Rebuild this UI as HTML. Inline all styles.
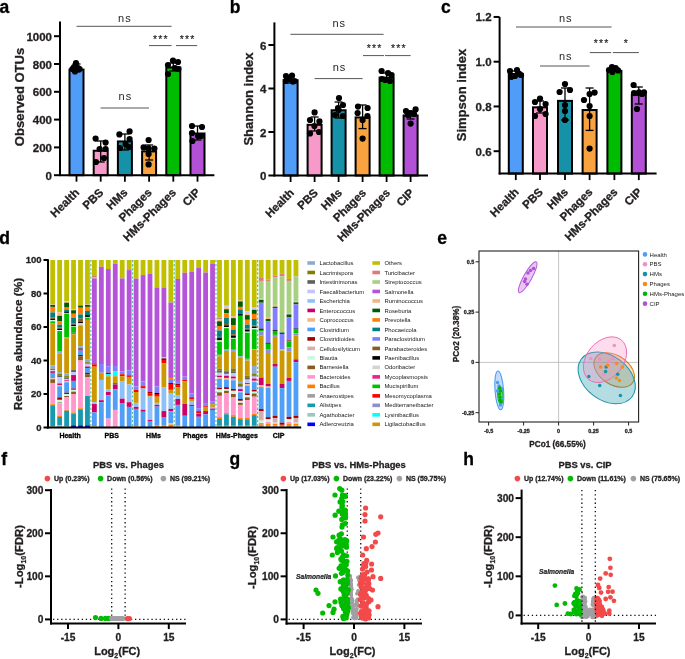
<!DOCTYPE html>
<html><head><meta charset="utf-8"><style>html,body{margin:0;padding:0;background:#fff;width:685px;height:659px;overflow:hidden}text{font-family:"Liberation Sans",sans-serif}</style></head><body>
<svg width="685" height="659" viewBox="0 0 685 659" style="display:block;will-change:transform;font-family:'Liberation Sans', sans-serif">
<rect width="685" height="659" fill="#fff"/>
<text x="-0.60" y="12.70" font-size="17.5" font-weight="bold" text-anchor="start" fill="#000" stroke="#000" stroke-width="0.3" >a</text>
<text x="229.80" y="12.70" font-size="17.5" font-weight="bold" text-anchor="start" fill="#000" stroke="#000" stroke-width="0.3" >b</text>
<text x="441.00" y="12.70" font-size="17.5" font-weight="bold" text-anchor="start" fill="#000" stroke="#000" stroke-width="0.3" >c</text>
<text x="-0.80" y="243.80" font-size="17.5" font-weight="bold" text-anchor="start" fill="#000" stroke="#000" stroke-width="0.3" >d</text>
<text x="437.20" y="243.80" font-size="17.5" font-weight="bold" text-anchor="start" fill="#000" stroke="#000" stroke-width="0.3" >e</text>
<text x="1.30" y="464.90" font-size="17.5" font-weight="bold" text-anchor="start" fill="#000" stroke="#000" stroke-width="0.3" >f</text>
<text x="229.50" y="465.20" font-size="17.5" font-weight="bold" text-anchor="start" fill="#000" stroke="#000" stroke-width="0.3" >g</text>
<text x="463.20" y="464.90" font-size="17.5" font-weight="bold" text-anchor="start" fill="#000" stroke="#000" stroke-width="0.3" >h</text>
<rect x="69.50" y="69.56" width="14" height="105.64" fill="#4f9cf9" stroke="#000" stroke-width="2"/>
<rect x="93.70" y="150.74" width="14" height="24.46" fill="#f799c9" stroke="#000" stroke-width="2"/>
<rect x="117.90" y="141.42" width="14" height="33.78" fill="#1592a8" stroke="#000" stroke-width="2"/>
<rect x="142.10" y="151.43" width="14" height="23.77" fill="#f9a240" stroke="#000" stroke-width="2"/>
<rect x="166.30" y="67.47" width="14" height="107.73" fill="#00bc00" stroke="#000" stroke-width="2"/>
<rect x="190.50" y="133.50" width="14" height="41.70" fill="#b250d6" stroke="#000" stroke-width="2"/>
<line x1="76.50" y1="64.00" x2="76.50" y2="72.00" stroke="#000" stroke-width="1.3" />
<line x1="72.50" y1="64.00" x2="80.50" y2="64.00" stroke="#000" stroke-width="1.3" />
<line x1="72.50" y1="72.00" x2="80.50" y2="72.00" stroke="#000" stroke-width="1.3" />
<circle cx="76.00" cy="63.20" r="3.1" fill="#000"/>
<circle cx="72.40" cy="69.00" r="3.1" fill="#000"/>
<circle cx="79.60" cy="69.00" r="3.1" fill="#000"/>
<circle cx="74.00" cy="67.00" r="3.1" fill="#000"/>
<circle cx="78.00" cy="68.00" r="3.1" fill="#000"/>
<circle cx="75.00" cy="71.50" r="3.1" fill="#000"/>
<line x1="100.70" y1="141.00" x2="100.70" y2="162.00" stroke="#000" stroke-width="1.3" />
<line x1="96.70" y1="141.00" x2="104.70" y2="141.00" stroke="#000" stroke-width="1.3" />
<line x1="96.70" y1="162.00" x2="104.70" y2="162.00" stroke="#000" stroke-width="1.3" />
<circle cx="95.60" cy="138.60" r="3.1" fill="#000"/>
<circle cx="105.60" cy="142.60" r="3.1" fill="#000"/>
<circle cx="105.60" cy="149.00" r="3.1" fill="#000"/>
<circle cx="99.60" cy="149.00" r="3.1" fill="#000"/>
<circle cx="104.00" cy="158.00" r="3.1" fill="#000"/>
<circle cx="96.00" cy="162.00" r="3.1" fill="#000"/>
<line x1="124.90" y1="134.00" x2="124.90" y2="150.00" stroke="#000" stroke-width="1.3" />
<line x1="120.90" y1="134.00" x2="128.90" y2="134.00" stroke="#000" stroke-width="1.3" />
<line x1="120.90" y1="150.00" x2="128.90" y2="150.00" stroke="#000" stroke-width="1.3" />
<circle cx="119.40" cy="134.40" r="3.1" fill="#000"/>
<circle cx="129.60" cy="131.40" r="3.1" fill="#000"/>
<circle cx="129.60" cy="139.00" r="3.1" fill="#000"/>
<circle cx="125.60" cy="144.00" r="3.1" fill="#000"/>
<circle cx="120.00" cy="148.00" r="3.1" fill="#000"/>
<circle cx="129.00" cy="147.00" r="3.1" fill="#000"/>
<line x1="149.10" y1="145.00" x2="149.10" y2="160.00" stroke="#000" stroke-width="1.3" />
<line x1="145.10" y1="145.00" x2="153.10" y2="145.00" stroke="#000" stroke-width="1.3" />
<line x1="145.10" y1="160.00" x2="153.10" y2="160.00" stroke="#000" stroke-width="1.3" />
<circle cx="148.60" cy="140.00" r="3.1" fill="#000"/>
<circle cx="143.60" cy="147.40" r="3.1" fill="#000"/>
<circle cx="154.40" cy="148.60" r="3.1" fill="#000"/>
<circle cx="148.60" cy="148.40" r="3.1" fill="#000"/>
<circle cx="148.60" cy="154.00" r="3.1" fill="#000"/>
<circle cx="148.60" cy="164.40" r="3.1" fill="#000"/>
<line x1="173.30" y1="63.00" x2="173.30" y2="71.00" stroke="#000" stroke-width="1.3" />
<line x1="169.30" y1="63.00" x2="177.30" y2="63.00" stroke="#000" stroke-width="1.3" />
<line x1="169.30" y1="71.00" x2="177.30" y2="71.00" stroke="#000" stroke-width="1.3" />
<circle cx="173.00" cy="60.60" r="3.1" fill="#000"/>
<circle cx="178.00" cy="62.00" r="3.1" fill="#000"/>
<circle cx="168.00" cy="65.00" r="3.1" fill="#000"/>
<circle cx="175.00" cy="68.00" r="3.1" fill="#000"/>
<circle cx="178.40" cy="69.00" r="3.1" fill="#000"/>
<circle cx="168.00" cy="74.00" r="3.1" fill="#000"/>
<line x1="197.50" y1="126.00" x2="197.50" y2="140.00" stroke="#000" stroke-width="1.3" />
<line x1="193.50" y1="126.00" x2="201.50" y2="126.00" stroke="#000" stroke-width="1.3" />
<line x1="193.50" y1="140.00" x2="201.50" y2="140.00" stroke="#000" stroke-width="1.3" />
<circle cx="192.00" cy="126.00" r="3.1" fill="#000"/>
<circle cx="202.00" cy="127.00" r="3.1" fill="#000"/>
<circle cx="192.00" cy="133.00" r="3.1" fill="#000"/>
<circle cx="201.00" cy="136.00" r="3.1" fill="#000"/>
<circle cx="198.00" cy="136.00" r="3.1" fill="#000"/>
<circle cx="192.40" cy="141.00" r="3.1" fill="#000"/>
<line x1="60.00" y1="21.60" x2="60.00" y2="176.10" stroke="#000" stroke-width="2" />
<line x1="59.10" y1="175.20" x2="214.40" y2="175.20" stroke="#000" stroke-width="2" />
<line x1="54.00" y1="175.20" x2="60.00" y2="175.20" stroke="#000" stroke-width="2" />
<text x="52.00" y="179.70" font-size="11.5" font-weight="bold" text-anchor="end" fill="#231f20" stroke="#231f20" stroke-width="0.3" >0</text>
<line x1="54.00" y1="147.40" x2="60.00" y2="147.40" stroke="#000" stroke-width="2" />
<text x="52.00" y="151.90" font-size="11.5" font-weight="bold" text-anchor="end" fill="#231f20" stroke="#231f20" stroke-width="0.3" >200</text>
<line x1="54.00" y1="119.60" x2="60.00" y2="119.60" stroke="#000" stroke-width="2" />
<text x="52.00" y="124.10" font-size="11.5" font-weight="bold" text-anchor="end" fill="#231f20" stroke="#231f20" stroke-width="0.3" >400</text>
<line x1="54.00" y1="91.80" x2="60.00" y2="91.80" stroke="#000" stroke-width="2" />
<text x="52.00" y="96.30" font-size="11.5" font-weight="bold" text-anchor="end" fill="#231f20" stroke="#231f20" stroke-width="0.3" >600</text>
<line x1="54.00" y1="64.00" x2="60.00" y2="64.00" stroke="#000" stroke-width="2" />
<text x="52.00" y="68.50" font-size="11.5" font-weight="bold" text-anchor="end" fill="#231f20" stroke="#231f20" stroke-width="0.3" >800</text>
<line x1="54.00" y1="36.20" x2="60.00" y2="36.20" stroke="#000" stroke-width="2" />
<text x="52.00" y="40.70" font-size="11.5" font-weight="bold" text-anchor="end" fill="#231f20" stroke="#231f20" stroke-width="0.3" >1000</text>
<line x1="76.50" y1="175.20" x2="76.50" y2="181.70" stroke="#000" stroke-width="1.8" />
<line x1="100.70" y1="175.20" x2="100.70" y2="181.70" stroke="#000" stroke-width="1.8" />
<line x1="124.90" y1="175.20" x2="124.90" y2="181.70" stroke="#000" stroke-width="1.8" />
<line x1="149.10" y1="175.20" x2="149.10" y2="181.70" stroke="#000" stroke-width="1.8" />
<line x1="173.30" y1="175.20" x2="173.30" y2="181.70" stroke="#000" stroke-width="1.8" />
<line x1="197.50" y1="175.20" x2="197.50" y2="181.70" stroke="#000" stroke-width="1.8" />
<text x="79.90" y="193.20" font-size="11.5" font-weight="bold" text-anchor="end" fill="#231f20" stroke="#231f20" stroke-width="0.3" transform="rotate(-45 79.90 193.20)">Health</text>
<text x="104.10" y="193.20" font-size="11.5" font-weight="bold" text-anchor="end" fill="#231f20" stroke="#231f20" stroke-width="0.3" transform="rotate(-45 104.10 193.20)">PBS</text>
<text x="128.30" y="193.20" font-size="11.5" font-weight="bold" text-anchor="end" fill="#231f20" stroke="#231f20" stroke-width="0.3" transform="rotate(-45 128.30 193.20)">HMs</text>
<text x="152.50" y="193.20" font-size="11.5" font-weight="bold" text-anchor="end" fill="#231f20" stroke="#231f20" stroke-width="0.3" transform="rotate(-45 152.50 193.20)">Phages</text>
<text x="176.70" y="193.20" font-size="11.5" font-weight="bold" text-anchor="end" fill="#231f20" stroke="#231f20" stroke-width="0.3" transform="rotate(-45 176.70 193.20)">HMs-Phages</text>
<text x="200.90" y="193.20" font-size="11.5" font-weight="bold" text-anchor="end" fill="#231f20" stroke="#231f20" stroke-width="0.3" transform="rotate(-45 200.90 193.20)">CIP</text>
<text x="23.5" y="97" font-size="13" font-weight="bold" text-anchor="middle" fill="#231f20" stroke="#231f20" stroke-width="0.3" transform="rotate(-90 23.5 97)">Observed OTUs</text>
<line x1="76.60" y1="26.30" x2="171.60" y2="26.30" stroke="#555" stroke-width="1.0" />
<text x="124.90" y="21.60" font-size="11" text-anchor="middle" fill="#262626" letter-spacing="1">ns</text>
<line x1="100.60" y1="108.00" x2="149.00" y2="108.00" stroke="#555" stroke-width="1.0" />
<text x="125.40" y="100.00" font-size="11" text-anchor="middle" fill="#262626" letter-spacing="1">ns</text>
<line x1="149.00" y1="45.60" x2="171.60" y2="45.60" stroke="#555" stroke-width="1.0" />
<text x="160.90" y="43.10" font-size="10.5" font-weight="normal" text-anchor="middle" fill="#231f20" stroke="#231f20" stroke-width="0.15" letter-spacing="1.2">***</text>
<line x1="176.00" y1="45.60" x2="197.20" y2="45.60" stroke="#555" stroke-width="1.0" />
<text x="187.60" y="43.10" font-size="10.5" font-weight="normal" text-anchor="middle" fill="#231f20" stroke="#231f20" stroke-width="0.15" letter-spacing="1.2">***</text>
<rect x="283.60" y="80.23" width="14" height="95.27" fill="#4f9cf9" stroke="#000" stroke-width="2"/>
<rect x="307.60" y="124.82" width="14" height="50.68" fill="#f799c9" stroke="#000" stroke-width="2"/>
<rect x="331.60" y="110.25" width="14" height="65.25" fill="#1592a8" stroke="#000" stroke-width="2"/>
<rect x="355.60" y="117.43" width="14" height="58.07" fill="#f9a240" stroke="#000" stroke-width="2"/>
<rect x="379.60" y="77.62" width="14" height="97.88" fill="#00bc00" stroke="#000" stroke-width="2"/>
<rect x="403.60" y="115.47" width="14" height="60.03" fill="#b250d6" stroke="#000" stroke-width="2"/>
<line x1="290.60" y1="77.00" x2="290.60" y2="83.00" stroke="#000" stroke-width="1.3" />
<line x1="286.60" y1="77.00" x2="294.60" y2="77.00" stroke="#000" stroke-width="1.3" />
<line x1="286.60" y1="83.00" x2="294.60" y2="83.00" stroke="#000" stroke-width="1.3" />
<circle cx="286.00" cy="76.00" r="3.1" fill="#000"/>
<circle cx="292.00" cy="75.60" r="3.1" fill="#000"/>
<circle cx="286.00" cy="81.00" r="3.1" fill="#000"/>
<circle cx="293.00" cy="81.60" r="3.1" fill="#000"/>
<circle cx="289.00" cy="79.00" r="3.1" fill="#000"/>
<circle cx="294.60" cy="81.00" r="3.1" fill="#000"/>
<line x1="314.60" y1="117.00" x2="314.60" y2="131.00" stroke="#000" stroke-width="1.3" />
<line x1="310.60" y1="117.00" x2="318.60" y2="117.00" stroke="#000" stroke-width="1.3" />
<line x1="310.60" y1="131.00" x2="318.60" y2="131.00" stroke="#000" stroke-width="1.3" />
<circle cx="314.60" cy="112.40" r="3.1" fill="#000"/>
<circle cx="310.00" cy="120.00" r="3.1" fill="#000"/>
<circle cx="319.40" cy="121.40" r="3.1" fill="#000"/>
<circle cx="314.40" cy="126.00" r="3.1" fill="#000"/>
<circle cx="310.00" cy="133.40" r="3.1" fill="#000"/>
<circle cx="319.00" cy="132.00" r="3.1" fill="#000"/>
<line x1="338.60" y1="102.00" x2="338.60" y2="118.00" stroke="#000" stroke-width="1.3" />
<line x1="334.60" y1="102.00" x2="342.60" y2="102.00" stroke="#000" stroke-width="1.3" />
<line x1="334.60" y1="118.00" x2="342.60" y2="118.00" stroke="#000" stroke-width="1.3" />
<circle cx="339.00" cy="98.00" r="3.1" fill="#000"/>
<circle cx="343.00" cy="105.00" r="3.1" fill="#000"/>
<circle cx="338.00" cy="108.00" r="3.1" fill="#000"/>
<circle cx="335.00" cy="115.00" r="3.1" fill="#000"/>
<circle cx="343.00" cy="116.00" r="3.1" fill="#000"/>
<circle cx="338.60" cy="110.00" r="3.1" fill="#000"/>
<line x1="362.60" y1="105.00" x2="362.60" y2="128.60" stroke="#000" stroke-width="1.3" />
<line x1="358.60" y1="105.00" x2="366.60" y2="105.00" stroke="#000" stroke-width="1.3" />
<line x1="358.60" y1="128.60" x2="366.60" y2="128.60" stroke="#000" stroke-width="1.3" />
<circle cx="358.00" cy="106.60" r="3.1" fill="#000"/>
<circle cx="367.60" cy="108.00" r="3.1" fill="#000"/>
<circle cx="357.60" cy="113.00" r="3.1" fill="#000"/>
<circle cx="367.40" cy="116.00" r="3.1" fill="#000"/>
<circle cx="362.60" cy="120.00" r="3.1" fill="#000"/>
<circle cx="362.60" cy="138.60" r="3.1" fill="#000"/>
<line x1="386.60" y1="73.00" x2="386.60" y2="81.00" stroke="#000" stroke-width="1.3" />
<line x1="382.60" y1="73.00" x2="390.60" y2="73.00" stroke="#000" stroke-width="1.3" />
<line x1="382.60" y1="81.00" x2="390.60" y2="81.00" stroke="#000" stroke-width="1.3" />
<circle cx="381.60" cy="71.00" r="3.1" fill="#000"/>
<circle cx="388.00" cy="73.00" r="3.1" fill="#000"/>
<circle cx="391.60" cy="75.00" r="3.1" fill="#000"/>
<circle cx="382.00" cy="79.00" r="3.1" fill="#000"/>
<circle cx="390.00" cy="81.00" r="3.1" fill="#000"/>
<circle cx="385.00" cy="80.00" r="3.1" fill="#000"/>
<line x1="410.60" y1="111.00" x2="410.60" y2="119.00" stroke="#000" stroke-width="1.3" />
<line x1="406.60" y1="111.00" x2="414.60" y2="111.00" stroke="#000" stroke-width="1.3" />
<line x1="406.60" y1="119.00" x2="414.60" y2="119.00" stroke="#000" stroke-width="1.3" />
<circle cx="406.00" cy="111.00" r="3.1" fill="#000"/>
<circle cx="415.60" cy="109.40" r="3.1" fill="#000"/>
<circle cx="410.40" cy="113.00" r="3.1" fill="#000"/>
<circle cx="408.00" cy="115.00" r="3.1" fill="#000"/>
<circle cx="414.00" cy="114.00" r="3.1" fill="#000"/>
<circle cx="410.60" cy="123.60" r="3.1" fill="#000"/>
<line x1="274.40" y1="22.40" x2="274.40" y2="176.40" stroke="#000" stroke-width="2" />
<line x1="273.50" y1="175.50" x2="428.00" y2="175.50" stroke="#000" stroke-width="2" />
<line x1="268.40" y1="175.50" x2="274.40" y2="175.50" stroke="#000" stroke-width="2" />
<text x="266.40" y="180.00" font-size="11.5" font-weight="bold" text-anchor="end" fill="#231f20" stroke="#231f20" stroke-width="0.3" >0</text>
<line x1="268.40" y1="132.00" x2="274.40" y2="132.00" stroke="#000" stroke-width="2" />
<text x="266.40" y="136.50" font-size="11.5" font-weight="bold" text-anchor="end" fill="#231f20" stroke="#231f20" stroke-width="0.3" >2</text>
<line x1="268.40" y1="88.50" x2="274.40" y2="88.50" stroke="#000" stroke-width="2" />
<text x="266.40" y="93.00" font-size="11.5" font-weight="bold" text-anchor="end" fill="#231f20" stroke="#231f20" stroke-width="0.3" >4</text>
<line x1="268.40" y1="45.00" x2="274.40" y2="45.00" stroke="#000" stroke-width="2" />
<text x="266.40" y="49.50" font-size="11.5" font-weight="bold" text-anchor="end" fill="#231f20" stroke="#231f20" stroke-width="0.3" >6</text>
<line x1="290.60" y1="175.50" x2="290.60" y2="182.00" stroke="#000" stroke-width="1.8" />
<line x1="314.60" y1="175.50" x2="314.60" y2="182.00" stroke="#000" stroke-width="1.8" />
<line x1="338.60" y1="175.50" x2="338.60" y2="182.00" stroke="#000" stroke-width="1.8" />
<line x1="362.60" y1="175.50" x2="362.60" y2="182.00" stroke="#000" stroke-width="1.8" />
<line x1="386.60" y1="175.50" x2="386.60" y2="182.00" stroke="#000" stroke-width="1.8" />
<line x1="410.60" y1="175.50" x2="410.60" y2="182.00" stroke="#000" stroke-width="1.8" />
<text x="294.80" y="193.50" font-size="11.5" font-weight="bold" text-anchor="end" fill="#231f20" stroke="#231f20" stroke-width="0.3" transform="rotate(-45 294.80 193.50)">Health</text>
<text x="318.80" y="193.50" font-size="11.5" font-weight="bold" text-anchor="end" fill="#231f20" stroke="#231f20" stroke-width="0.3" transform="rotate(-45 318.80 193.50)">PBS</text>
<text x="342.80" y="193.50" font-size="11.5" font-weight="bold" text-anchor="end" fill="#231f20" stroke="#231f20" stroke-width="0.3" transform="rotate(-45 342.80 193.50)">HMs</text>
<text x="366.80" y="193.50" font-size="11.5" font-weight="bold" text-anchor="end" fill="#231f20" stroke="#231f20" stroke-width="0.3" transform="rotate(-45 366.80 193.50)">Phages</text>
<text x="390.80" y="193.50" font-size="11.5" font-weight="bold" text-anchor="end" fill="#231f20" stroke="#231f20" stroke-width="0.3" transform="rotate(-45 390.80 193.50)">HMs-Phages</text>
<text x="414.80" y="193.50" font-size="11.5" font-weight="bold" text-anchor="end" fill="#231f20" stroke="#231f20" stroke-width="0.3" transform="rotate(-45 414.80 193.50)">CIP</text>
<text x="253" y="99" font-size="13" font-weight="bold" text-anchor="middle" fill="#231f20" stroke="#231f20" stroke-width="0.3" transform="rotate(-90 253 99)">Shannon index</text>
<line x1="290.40" y1="34.30" x2="383.60" y2="34.30" stroke="#555" stroke-width="1.0" />
<text x="339.30" y="26.60" font-size="11" text-anchor="middle" fill="#262626" letter-spacing="1">ns</text>
<line x1="314.60" y1="78.60" x2="362.60" y2="78.60" stroke="#555" stroke-width="1.0" />
<text x="339.50" y="71.00" font-size="11" text-anchor="middle" fill="#262626" letter-spacing="1">ns</text>
<line x1="363.00" y1="55.60" x2="384.00" y2="55.60" stroke="#555" stroke-width="1.0" />
<text x="374.60" y="52.10" font-size="10.5" font-weight="normal" text-anchor="middle" fill="#231f20" stroke="#231f20" stroke-width="0.15" letter-spacing="1.2">***</text>
<line x1="385.00" y1="55.60" x2="410.60" y2="55.60" stroke="#555" stroke-width="1.0" />
<text x="398.90" y="52.10" font-size="10.5" font-weight="normal" text-anchor="middle" fill="#231f20" stroke="#231f20" stroke-width="0.15" letter-spacing="1.2">***</text>
<rect x="508.80" y="74.01" width="14" height="99.59" fill="#4f9cf9" stroke="#000" stroke-width="2"/>
<rect x="533.00" y="107.34" width="14" height="66.26" fill="#f799c9" stroke="#000" stroke-width="2"/>
<rect x="558.00" y="100.86" width="14" height="72.74" fill="#1592a8" stroke="#000" stroke-width="2"/>
<rect x="582.60" y="110.03" width="14" height="63.57" fill="#f9a240" stroke="#000" stroke-width="2"/>
<rect x="607.40" y="70.87" width="14" height="102.73" fill="#00bc00" stroke="#000" stroke-width="2"/>
<rect x="631.80" y="95.04" width="14" height="78.56" fill="#b250d6" stroke="#000" stroke-width="2"/>
<line x1="515.80" y1="71.00" x2="515.80" y2="76.00" stroke="#000" stroke-width="1.3" />
<line x1="511.80" y1="71.00" x2="519.80" y2="71.00" stroke="#000" stroke-width="1.3" />
<line x1="511.80" y1="76.00" x2="519.80" y2="76.00" stroke="#000" stroke-width="1.3" />
<circle cx="510.00" cy="71.00" r="3.1" fill="#000"/>
<circle cx="517.00" cy="70.00" r="3.1" fill="#000"/>
<circle cx="521.00" cy="75.00" r="3.1" fill="#000"/>
<circle cx="511.00" cy="77.00" r="3.1" fill="#000"/>
<circle cx="515.00" cy="76.00" r="3.1" fill="#000"/>
<circle cx="519.00" cy="73.60" r="3.1" fill="#000"/>
<line x1="540.00" y1="101.00" x2="540.00" y2="113.00" stroke="#000" stroke-width="1.3" />
<line x1="536.00" y1="101.00" x2="544.00" y2="101.00" stroke="#000" stroke-width="1.3" />
<line x1="536.00" y1="113.00" x2="544.00" y2="113.00" stroke="#000" stroke-width="1.3" />
<circle cx="540.00" cy="98.60" r="3.1" fill="#000"/>
<circle cx="535.00" cy="102.00" r="3.1" fill="#000"/>
<circle cx="545.60" cy="104.00" r="3.1" fill="#000"/>
<circle cx="540.00" cy="109.00" r="3.1" fill="#000"/>
<circle cx="535.00" cy="116.00" r="3.1" fill="#000"/>
<circle cx="545.60" cy="114.00" r="3.1" fill="#000"/>
<line x1="565.00" y1="88.00" x2="565.00" y2="120.00" stroke="#000" stroke-width="1.3" />
<line x1="561.00" y1="88.00" x2="569.00" y2="88.00" stroke="#000" stroke-width="1.3" />
<line x1="561.00" y1="120.00" x2="569.00" y2="120.00" stroke="#000" stroke-width="1.3" />
<circle cx="565.00" cy="84.00" r="3.1" fill="#000"/>
<circle cx="559.60" cy="92.00" r="3.1" fill="#000"/>
<circle cx="570.00" cy="90.00" r="3.1" fill="#000"/>
<circle cx="565.00" cy="105.00" r="3.1" fill="#000"/>
<circle cx="565.00" cy="111.00" r="3.1" fill="#000"/>
<circle cx="565.00" cy="120.00" r="3.1" fill="#000"/>
<line x1="589.60" y1="88.00" x2="589.60" y2="130.40" stroke="#000" stroke-width="1.3" />
<line x1="585.60" y1="88.00" x2="593.60" y2="88.00" stroke="#000" stroke-width="1.3" />
<line x1="585.60" y1="130.40" x2="593.60" y2="130.40" stroke="#000" stroke-width="1.3" />
<circle cx="589.60" cy="94.00" r="3.1" fill="#000"/>
<circle cx="594.60" cy="92.60" r="3.1" fill="#000"/>
<circle cx="584.00" cy="100.00" r="3.1" fill="#000"/>
<circle cx="589.60" cy="106.00" r="3.1" fill="#000"/>
<circle cx="589.60" cy="116.00" r="3.1" fill="#000"/>
<circle cx="589.60" cy="148.60" r="3.1" fill="#000"/>
<line x1="614.40" y1="68.00" x2="614.40" y2="71.00" stroke="#000" stroke-width="1.3" />
<line x1="610.40" y1="68.00" x2="618.40" y2="68.00" stroke="#000" stroke-width="1.3" />
<line x1="610.40" y1="71.00" x2="618.40" y2="71.00" stroke="#000" stroke-width="1.3" />
<circle cx="612.00" cy="67.00" r="3.1" fill="#000"/>
<circle cx="615.60" cy="68.00" r="3.1" fill="#000"/>
<circle cx="609.00" cy="70.00" r="3.1" fill="#000"/>
<circle cx="618.00" cy="70.40" r="3.1" fill="#000"/>
<circle cx="614.00" cy="69.00" r="3.1" fill="#000"/>
<circle cx="612.40" cy="72.00" r="3.1" fill="#000"/>
<line x1="638.80" y1="87.00" x2="638.80" y2="104.00" stroke="#000" stroke-width="1.3" />
<line x1="634.80" y1="87.00" x2="642.80" y2="87.00" stroke="#000" stroke-width="1.3" />
<line x1="634.80" y1="104.00" x2="642.80" y2="104.00" stroke="#000" stroke-width="1.3" />
<circle cx="633.60" cy="85.00" r="3.1" fill="#000"/>
<circle cx="644.00" cy="92.40" r="3.1" fill="#000"/>
<circle cx="634.00" cy="93.00" r="3.1" fill="#000"/>
<circle cx="639.00" cy="92.40" r="3.1" fill="#000"/>
<circle cx="642.00" cy="94.00" r="3.1" fill="#000"/>
<circle cx="637.00" cy="109.00" r="3.1" fill="#000"/>
<line x1="499.60" y1="17.00" x2="499.60" y2="174.50" stroke="#000" stroke-width="2" />
<line x1="498.70" y1="173.60" x2="656.60" y2="173.60" stroke="#000" stroke-width="2" />
<line x1="493.60" y1="151.20" x2="499.60" y2="151.20" stroke="#000" stroke-width="2" />
<text x="491.60" y="155.70" font-size="11.5" font-weight="bold" text-anchor="end" fill="#231f20" stroke="#231f20" stroke-width="0.3" >0.6</text>
<line x1="493.60" y1="106.45" x2="499.60" y2="106.45" stroke="#000" stroke-width="2" />
<text x="491.60" y="110.95" font-size="11.5" font-weight="bold" text-anchor="end" fill="#231f20" stroke="#231f20" stroke-width="0.3" >0.8</text>
<line x1="493.60" y1="61.70" x2="499.60" y2="61.70" stroke="#000" stroke-width="2" />
<text x="491.60" y="66.20" font-size="11.5" font-weight="bold" text-anchor="end" fill="#231f20" stroke="#231f20" stroke-width="0.3" >1.0</text>
<line x1="493.60" y1="16.95" x2="499.60" y2="16.95" stroke="#000" stroke-width="2" />
<text x="491.60" y="21.45" font-size="11.5" font-weight="bold" text-anchor="end" fill="#231f20" stroke="#231f20" stroke-width="0.3" >1.2</text>
<line x1="515.80" y1="173.60" x2="515.80" y2="180.10" stroke="#000" stroke-width="1.8" />
<line x1="540.00" y1="173.60" x2="540.00" y2="180.10" stroke="#000" stroke-width="1.8" />
<line x1="565.00" y1="173.60" x2="565.00" y2="180.10" stroke="#000" stroke-width="1.8" />
<line x1="589.60" y1="173.60" x2="589.60" y2="180.10" stroke="#000" stroke-width="1.8" />
<line x1="614.40" y1="173.60" x2="614.40" y2="180.10" stroke="#000" stroke-width="1.8" />
<line x1="638.80" y1="173.60" x2="638.80" y2="180.10" stroke="#000" stroke-width="1.8" />
<text x="519.60" y="192.80" font-size="11.5" font-weight="bold" text-anchor="end" fill="#231f20" stroke="#231f20" stroke-width="0.3" transform="rotate(-45 519.60 192.80)">Health</text>
<text x="543.80" y="192.80" font-size="11.5" font-weight="bold" text-anchor="end" fill="#231f20" stroke="#231f20" stroke-width="0.3" transform="rotate(-45 543.80 192.80)">PBS</text>
<text x="568.80" y="192.80" font-size="11.5" font-weight="bold" text-anchor="end" fill="#231f20" stroke="#231f20" stroke-width="0.3" transform="rotate(-45 568.80 192.80)">HMs</text>
<text x="593.40" y="192.80" font-size="11.5" font-weight="bold" text-anchor="end" fill="#231f20" stroke="#231f20" stroke-width="0.3" transform="rotate(-45 593.40 192.80)">Phages</text>
<text x="618.20" y="192.80" font-size="11.5" font-weight="bold" text-anchor="end" fill="#231f20" stroke="#231f20" stroke-width="0.3" transform="rotate(-45 618.20 192.80)">HMs-Phages</text>
<text x="642.60" y="192.80" font-size="11.5" font-weight="bold" text-anchor="end" fill="#231f20" stroke="#231f20" stroke-width="0.3" transform="rotate(-45 642.60 192.80)">CIP</text>
<text x="466" y="95" font-size="13" font-weight="bold" text-anchor="middle" fill="#231f20" stroke="#231f20" stroke-width="0.3" transform="rotate(-90 466 95)">Simpson index</text>
<line x1="516.00" y1="27.00" x2="611.60" y2="27.00" stroke="#555" stroke-width="1.0" />
<text x="565.70" y="22.00" font-size="11" text-anchor="middle" fill="#262626" letter-spacing="1">ns</text>
<line x1="540.00" y1="66.00" x2="589.60" y2="66.00" stroke="#555" stroke-width="1.0" />
<text x="565.70" y="60.00" font-size="11" text-anchor="middle" fill="#262626" letter-spacing="1">ns</text>
<line x1="589.80" y1="52.60" x2="611.10" y2="52.60" stroke="#555" stroke-width="1.0" />
<text x="601.60" y="46.60" font-size="10.5" font-weight="normal" text-anchor="middle" fill="#231f20" stroke="#231f20" stroke-width="0.15" letter-spacing="1.2">***</text>
<line x1="612.80" y1="52.60" x2="638.90" y2="52.60" stroke="#555" stroke-width="1.0" />
<text x="626.30" y="46.60" font-size="10.5" font-weight="normal" text-anchor="middle" fill="#231f20" stroke="#231f20" stroke-width="0.15" letter-spacing="1.2">*</text>
<rect x="50.30" y="260.00" width="4.8" height="44.22" fill="#c0c000"/>
<rect x="50.30" y="304.22" width="4.8" height="0.67" fill="#f5b882"/>
<rect x="50.30" y="304.89" width="4.8" height="2.01" fill="#005c00"/>
<rect x="50.30" y="306.90" width="4.8" height="5.53" fill="#ff8000"/>
<rect x="50.30" y="312.43" width="4.8" height="4.86" fill="#008080"/>
<rect x="50.30" y="317.28" width="4.8" height="1.68" fill="#8b5a1e"/>
<rect x="50.30" y="318.96" width="4.8" height="1.00" fill="#000000"/>
<rect x="50.30" y="319.96" width="4.8" height="1.34" fill="#c8f8e2"/>
<rect x="50.30" y="321.31" width="4.8" height="2.01" fill="#00c000"/>
<rect x="50.30" y="323.31" width="4.8" height="42.04" fill="#cc9900"/>
<rect x="50.30" y="365.36" width="4.8" height="3.35" fill="#8daad6"/>
<rect x="50.30" y="368.71" width="4.8" height="1.51" fill="#808000"/>
<rect x="50.30" y="370.21" width="4.8" height="1.01" fill="#c4c4ff"/>
<rect x="50.30" y="371.22" width="4.8" height="1.67" fill="#cc0066"/>
<rect x="50.30" y="372.89" width="4.8" height="5.36" fill="#4f9ff8"/>
<rect x="50.30" y="378.25" width="4.8" height="1.00" fill="#f5b882"/>
<rect x="50.30" y="379.26" width="4.8" height="3.69" fill="#8b5a1e"/>
<rect x="50.30" y="382.94" width="4.8" height="21.27" fill="#ff99cc"/>
<rect x="50.30" y="404.22" width="4.8" height="1.00" fill="#ff8000"/>
<rect x="50.30" y="405.22" width="4.8" height="20.77" fill="#1899ae"/>
<rect x="50.30" y="425.99" width="4.8" height="1.51" fill="#9cc8be"/>
<rect x="57.25" y="260.00" width="4.8" height="52.43" fill="#c0c000"/>
<rect x="57.25" y="312.43" width="4.8" height="3.35" fill="#f5b882"/>
<rect x="57.25" y="315.78" width="4.8" height="5.53" fill="#005c00"/>
<rect x="57.25" y="321.31" width="4.8" height="3.35" fill="#ff8000"/>
<rect x="57.25" y="324.65" width="4.8" height="2.68" fill="#008080"/>
<rect x="57.25" y="327.34" width="4.8" height="1.34" fill="#8b5a1e"/>
<rect x="57.25" y="328.68" width="4.8" height="1.34" fill="#000000"/>
<rect x="57.25" y="330.01" width="4.8" height="1.00" fill="#c8f8e2"/>
<rect x="57.25" y="331.02" width="4.8" height="20.60" fill="#00c000"/>
<rect x="57.25" y="351.62" width="4.8" height="2.18" fill="#8daad6"/>
<rect x="57.25" y="353.80" width="4.8" height="18.26" fill="#cc9900"/>
<rect x="57.25" y="372.06" width="4.8" height="1.84" fill="#8daad6"/>
<rect x="57.25" y="373.90" width="4.8" height="1.34" fill="#808000"/>
<rect x="57.25" y="375.24" width="4.8" height="2.01" fill="#606060"/>
<rect x="57.25" y="377.25" width="4.8" height="6.20" fill="#c4c4ff"/>
<rect x="57.25" y="383.45" width="4.8" height="1.51" fill="#cc0066"/>
<rect x="57.25" y="384.95" width="4.8" height="1.34" fill="#f5b882"/>
<rect x="57.25" y="386.30" width="4.8" height="11.06" fill="#4f9ff8"/>
<rect x="57.25" y="397.35" width="4.8" height="2.51" fill="#a00000"/>
<rect x="57.25" y="399.86" width="4.8" height="2.68" fill="#c8f8e2"/>
<rect x="57.25" y="402.54" width="4.8" height="0.67" fill="#8b5a1e"/>
<rect x="57.25" y="403.21" width="4.8" height="12.56" fill="#ff99cc"/>
<rect x="57.25" y="415.77" width="4.8" height="1.17" fill="#ff8000"/>
<rect x="57.25" y="416.95" width="4.8" height="8.54" fill="#1899ae"/>
<rect x="57.25" y="425.49" width="4.8" height="2.01" fill="#9cc8be"/>
<rect x="64.20" y="260.00" width="4.8" height="41.37" fill="#c0c000"/>
<rect x="64.20" y="301.37" width="4.8" height="1.34" fill="#f5b882"/>
<rect x="64.20" y="302.71" width="4.8" height="4.86" fill="#005c00"/>
<rect x="64.20" y="307.57" width="4.8" height="1.84" fill="#ff8000"/>
<rect x="64.20" y="309.41" width="4.8" height="2.01" fill="#008080"/>
<rect x="64.20" y="311.42" width="4.8" height="1.51" fill="#000000"/>
<rect x="64.20" y="312.93" width="4.8" height="0.67" fill="#c8f8e2"/>
<rect x="64.20" y="313.60" width="4.8" height="23.45" fill="#00c000"/>
<rect x="64.20" y="337.05" width="4.8" height="1.17" fill="#8daad6"/>
<rect x="64.20" y="338.22" width="4.8" height="35.34" fill="#cc9900"/>
<rect x="64.20" y="373.56" width="4.8" height="2.51" fill="#8daad6"/>
<rect x="64.20" y="376.08" width="4.8" height="1.34" fill="#808000"/>
<rect x="64.20" y="377.42" width="4.8" height="1.51" fill="#606060"/>
<rect x="64.20" y="378.93" width="4.8" height="1.34" fill="#c4c4ff"/>
<rect x="64.20" y="380.26" width="4.8" height="0.67" fill="#cc0066"/>
<rect x="64.20" y="380.94" width="4.8" height="1.34" fill="#f5b882"/>
<rect x="64.20" y="382.27" width="4.8" height="10.38" fill="#4f9ff8"/>
<rect x="64.20" y="392.66" width="4.8" height="1.34" fill="#a00000"/>
<rect x="64.20" y="394.00" width="4.8" height="2.01" fill="#c8f8e2"/>
<rect x="64.20" y="396.01" width="4.8" height="1.34" fill="#8b5a1e"/>
<rect x="64.20" y="397.35" width="4.8" height="12.39" fill="#ff99cc"/>
<rect x="64.20" y="409.75" width="4.8" height="1.00" fill="#ff8000"/>
<rect x="64.20" y="410.75" width="4.8" height="15.75" fill="#1899ae"/>
<rect x="64.20" y="426.50" width="4.8" height="1.00" fill="#9cc8be"/>
<rect x="71.15" y="260.00" width="4.8" height="49.08" fill="#c0c000"/>
<rect x="71.15" y="309.08" width="4.8" height="1.17" fill="#f5b882"/>
<rect x="71.15" y="310.25" width="4.8" height="3.52" fill="#005c00"/>
<rect x="71.15" y="313.77" width="4.8" height="4.19" fill="#ff8000"/>
<rect x="71.15" y="317.95" width="4.8" height="5.36" fill="#008080"/>
<rect x="71.15" y="323.31" width="4.8" height="1.34" fill="#8b5a1e"/>
<rect x="71.15" y="324.65" width="4.8" height="1.34" fill="#000000"/>
<rect x="71.15" y="326.00" width="4.8" height="0.67" fill="#c8f8e2"/>
<rect x="71.15" y="326.66" width="4.8" height="6.20" fill="#00c000"/>
<rect x="71.15" y="332.86" width="4.8" height="1.34" fill="#b554d9"/>
<rect x="71.15" y="334.20" width="4.8" height="35.85" fill="#cc9900"/>
<rect x="71.15" y="370.05" width="4.8" height="2.18" fill="#606060"/>
<rect x="71.15" y="372.23" width="4.8" height="2.85" fill="#c4c4ff"/>
<rect x="71.15" y="375.07" width="4.8" height="5.86" fill="#cc0066"/>
<rect x="71.15" y="380.94" width="4.8" height="7.54" fill="#4f9ff8"/>
<rect x="71.15" y="388.47" width="4.8" height="1.34" fill="#a00000"/>
<rect x="71.15" y="389.81" width="4.8" height="1.84" fill="#c8f8e2"/>
<rect x="71.15" y="391.65" width="4.8" height="2.35" fill="#8b5a1e"/>
<rect x="71.15" y="394.00" width="4.8" height="18.43" fill="#ff99cc"/>
<rect x="71.15" y="412.43" width="4.8" height="1.00" fill="#ff8000"/>
<rect x="71.15" y="413.43" width="4.8" height="11.89" fill="#1899ae"/>
<rect x="71.15" y="425.32" width="4.8" height="2.18" fill="#0000ff"/>
<rect x="78.10" y="260.00" width="4.8" height="45.56" fill="#c0c000"/>
<rect x="78.10" y="305.56" width="4.8" height="2.18" fill="#005c00"/>
<rect x="78.10" y="307.74" width="4.8" height="6.70" fill="#ff8000"/>
<rect x="78.10" y="314.44" width="4.8" height="4.19" fill="#008080"/>
<rect x="78.10" y="318.62" width="4.8" height="3.35" fill="#8b5a1e"/>
<rect x="78.10" y="321.98" width="4.8" height="1.17" fill="#000000"/>
<rect x="78.10" y="323.15" width="4.8" height="2.18" fill="#d3d3d3"/>
<rect x="78.10" y="325.32" width="4.8" height="20.77" fill="#cc9900"/>
<rect x="78.10" y="346.10" width="4.8" height="2.01" fill="#8daad6"/>
<rect x="78.10" y="348.11" width="4.8" height="1.17" fill="#606060"/>
<rect x="78.10" y="349.28" width="4.8" height="1.34" fill="#cc0066"/>
<rect x="78.10" y="350.62" width="4.8" height="4.35" fill="#4f9ff8"/>
<rect x="78.10" y="354.97" width="4.8" height="1.17" fill="#a00000"/>
<rect x="78.10" y="356.14" width="4.8" height="4.36" fill="#8b5a1e"/>
<rect x="78.10" y="360.50" width="4.8" height="47.74" fill="#ff99cc"/>
<rect x="78.10" y="408.24" width="4.8" height="1.00" fill="#ff8000"/>
<rect x="78.10" y="409.24" width="4.8" height="16.08" fill="#1899ae"/>
<rect x="78.10" y="425.32" width="4.8" height="2.18" fill="#0000ff"/>
<rect x="85.05" y="260.00" width="4.8" height="44.22" fill="#c0c000"/>
<rect x="85.05" y="304.22" width="4.8" height="0.67" fill="#f5b882"/>
<rect x="85.05" y="304.89" width="4.8" height="2.01" fill="#005c00"/>
<rect x="85.05" y="306.90" width="4.8" height="4.02" fill="#ff8000"/>
<rect x="85.05" y="310.92" width="4.8" height="4.19" fill="#008080"/>
<rect x="85.05" y="315.11" width="4.8" height="1.84" fill="#000000"/>
<rect x="85.05" y="316.95" width="4.8" height="0.67" fill="#c8f8e2"/>
<rect x="85.05" y="317.62" width="4.8" height="1.34" fill="#00c000"/>
<rect x="85.05" y="318.96" width="4.8" height="1.00" fill="#b554d9"/>
<rect x="85.05" y="319.96" width="4.8" height="39.19" fill="#cc9900"/>
<rect x="85.05" y="359.16" width="4.8" height="3.02" fill="#8daad6"/>
<rect x="85.05" y="362.18" width="4.8" height="1.68" fill="#808000"/>
<rect x="85.05" y="363.85" width="4.8" height="2.68" fill="#c4c4ff"/>
<rect x="85.05" y="366.53" width="4.8" height="1.51" fill="#cc0066"/>
<rect x="85.05" y="368.04" width="4.8" height="4.86" fill="#4f9ff8"/>
<rect x="85.05" y="372.89" width="4.8" height="1.34" fill="#a00000"/>
<rect x="85.05" y="374.24" width="4.8" height="3.01" fill="#8b5a1e"/>
<rect x="85.05" y="377.25" width="4.8" height="18.76" fill="#ff99cc"/>
<rect x="85.05" y="396.01" width="4.8" height="29.31" fill="#1899ae"/>
<rect x="85.05" y="425.32" width="4.8" height="2.18" fill="#0000ff"/>
<rect x="92.00" y="260.00" width="4.8" height="15.24" fill="#c0c000"/>
<rect x="92.00" y="275.24" width="4.8" height="2.35" fill="#e07a7a"/>
<rect x="92.00" y="277.59" width="4.8" height="0.84" fill="#a8d080"/>
<rect x="92.00" y="278.42" width="4.8" height="85.09" fill="#b554d9"/>
<rect x="92.00" y="363.51" width="4.8" height="1.00" fill="#a00000"/>
<rect x="92.00" y="364.52" width="4.8" height="2.18" fill="#ff0000"/>
<rect x="92.00" y="366.70" width="4.8" height="35.51" fill="#cc9900"/>
<rect x="92.00" y="402.21" width="4.8" height="1.84" fill="#90c0fa"/>
<rect x="92.00" y="404.05" width="4.8" height="8.38" fill="#cc0066"/>
<rect x="92.00" y="412.43" width="4.8" height="13.57" fill="#4f9ff8"/>
<rect x="92.00" y="425.99" width="4.8" height="1.51" fill="#f5b882"/>
<rect x="98.95" y="260.00" width="4.8" height="6.70" fill="#c0c000"/>
<rect x="98.95" y="266.70" width="4.8" height="97.32" fill="#b554d9"/>
<rect x="98.95" y="364.02" width="4.8" height="8.71" fill="#8080ff"/>
<rect x="98.95" y="372.73" width="4.8" height="1.17" fill="#ff8000"/>
<rect x="98.95" y="373.90" width="4.8" height="6.03" fill="#cc9900"/>
<rect x="98.95" y="379.93" width="4.8" height="20.27" fill="#90c0fa"/>
<rect x="98.95" y="400.20" width="4.8" height="2.01" fill="#cc0066"/>
<rect x="98.95" y="402.21" width="4.8" height="25.29" fill="#4f9ff8"/>
<rect x="105.90" y="260.00" width="4.8" height="9.05" fill="#c0c000"/>
<rect x="105.90" y="269.05" width="4.8" height="97.15" fill="#b554d9"/>
<rect x="105.90" y="366.19" width="4.8" height="6.53" fill="#8080ff"/>
<rect x="105.90" y="372.73" width="4.8" height="1.34" fill="#a00000"/>
<rect x="105.90" y="374.07" width="4.8" height="2.18" fill="#00ffff"/>
<rect x="105.90" y="376.25" width="4.8" height="12.90" fill="#cc9900"/>
<rect x="105.90" y="389.14" width="4.8" height="2.85" fill="#90c0fa"/>
<rect x="105.90" y="391.99" width="4.8" height="3.35" fill="#cc0066"/>
<rect x="105.90" y="395.34" width="4.8" height="23.28" fill="#4f9ff8"/>
<rect x="105.90" y="418.62" width="4.8" height="8.88" fill="#ff99cc"/>
<rect x="112.85" y="260.00" width="4.8" height="3.85" fill="#c0c000"/>
<rect x="112.85" y="263.85" width="4.8" height="102.18" fill="#b554d9"/>
<rect x="112.85" y="366.03" width="4.8" height="5.36" fill="#8080ff"/>
<rect x="112.85" y="371.39" width="4.8" height="4.86" fill="#00ffff"/>
<rect x="112.85" y="376.25" width="4.8" height="6.87" fill="#cc9900"/>
<rect x="112.85" y="383.11" width="4.8" height="1.34" fill="#008080"/>
<rect x="112.85" y="384.45" width="4.8" height="4.69" fill="#cc0066"/>
<rect x="112.85" y="389.14" width="4.8" height="20.77" fill="#4f9ff8"/>
<rect x="112.85" y="409.91" width="4.8" height="17.59" fill="#ff99cc"/>
<rect x="119.80" y="260.00" width="4.8" height="18.42" fill="#c0c000"/>
<rect x="119.80" y="278.42" width="4.8" height="92.96" fill="#b554d9"/>
<rect x="119.80" y="371.39" width="4.8" height="2.85" fill="#8080ff"/>
<rect x="119.80" y="374.24" width="4.8" height="2.01" fill="#ff0000"/>
<rect x="119.80" y="376.25" width="4.8" height="5.36" fill="#cc9900"/>
<rect x="119.80" y="381.61" width="4.8" height="17.08" fill="#90c0fa"/>
<rect x="119.80" y="398.69" width="4.8" height="4.36" fill="#cc0066"/>
<rect x="119.80" y="403.05" width="4.8" height="24.45" fill="#4f9ff8"/>
<rect x="126.75" y="260.00" width="4.8" height="10.05" fill="#c0c000"/>
<rect x="126.75" y="270.05" width="4.8" height="100.33" fill="#b554d9"/>
<rect x="126.75" y="370.38" width="4.8" height="4.86" fill="#8080ff"/>
<rect x="126.75" y="375.24" width="4.8" height="1.68" fill="#ff0000"/>
<rect x="126.75" y="376.92" width="4.8" height="7.54" fill="#cc9900"/>
<rect x="126.75" y="384.45" width="4.8" height="17.75" fill="#90c0fa"/>
<rect x="126.75" y="402.21" width="4.8" height="4.69" fill="#cc0066"/>
<rect x="126.75" y="406.90" width="4.8" height="20.60" fill="#4f9ff8"/>
<rect x="133.70" y="260.00" width="4.8" height="18.59" fill="#c0c000"/>
<rect x="133.70" y="278.59" width="4.8" height="107.87" fill="#b554d9"/>
<rect x="133.70" y="386.46" width="4.8" height="3.35" fill="#8080ff"/>
<rect x="133.70" y="389.81" width="4.8" height="2.18" fill="#ff0000"/>
<rect x="133.70" y="391.99" width="4.8" height="10.89" fill="#cc9900"/>
<rect x="133.70" y="402.88" width="4.8" height="4.02" fill="#90c0fa"/>
<rect x="133.70" y="406.90" width="4.8" height="2.01" fill="#cc0066"/>
<rect x="133.70" y="408.91" width="4.8" height="17.08" fill="#4f9ff8"/>
<rect x="133.70" y="425.99" width="4.8" height="1.51" fill="#f5b882"/>
<rect x="140.65" y="260.00" width="4.8" height="15.07" fill="#c0c000"/>
<rect x="140.65" y="275.07" width="4.8" height="106.36" fill="#b554d9"/>
<rect x="140.65" y="381.44" width="4.8" height="4.69" fill="#8080ff"/>
<rect x="140.65" y="386.13" width="4.8" height="2.34" fill="#ff0000"/>
<rect x="140.65" y="388.47" width="4.8" height="21.27" fill="#90c0fa"/>
<rect x="140.65" y="409.75" width="4.8" height="2.01" fill="#cc0066"/>
<rect x="140.65" y="411.75" width="4.8" height="15.75" fill="#4f9ff8"/>
<rect x="147.60" y="260.00" width="4.8" height="13.90" fill="#c0c000"/>
<rect x="147.60" y="273.90" width="4.8" height="118.09" fill="#b554d9"/>
<rect x="147.60" y="391.99" width="4.8" height="1.17" fill="#a00000"/>
<rect x="147.60" y="393.16" width="4.8" height="2.68" fill="#ff0000"/>
<rect x="147.60" y="395.84" width="4.8" height="0.84" fill="#cc9900"/>
<rect x="147.60" y="396.68" width="4.8" height="23.28" fill="#90c0fa"/>
<rect x="147.60" y="419.96" width="4.8" height="1.00" fill="#cc0066"/>
<rect x="147.60" y="420.97" width="4.8" height="6.53" fill="#4f9ff8"/>
<rect x="154.55" y="260.00" width="4.8" height="27.47" fill="#c0c000"/>
<rect x="154.55" y="287.47" width="4.8" height="98.99" fill="#b554d9"/>
<rect x="154.55" y="386.46" width="4.8" height="6.53" fill="#8080ff"/>
<rect x="154.55" y="393.00" width="4.8" height="1.00" fill="#000000"/>
<rect x="154.55" y="394.00" width="4.8" height="2.68" fill="#ff0000"/>
<rect x="154.55" y="396.68" width="4.8" height="6.20" fill="#cc9900"/>
<rect x="154.55" y="402.88" width="4.8" height="2.01" fill="#90c0fa"/>
<rect x="154.55" y="404.89" width="4.8" height="1.68" fill="#cc0066"/>
<rect x="154.55" y="406.56" width="4.8" height="18.76" fill="#4f9ff8"/>
<rect x="154.55" y="425.32" width="4.8" height="2.18" fill="#ff8000"/>
<rect x="161.50" y="260.00" width="4.8" height="27.47" fill="#c0c000"/>
<rect x="161.50" y="287.47" width="4.8" height="70.01" fill="#b554d9"/>
<rect x="161.50" y="357.49" width="4.8" height="1.00" fill="#f5b882"/>
<rect x="161.50" y="358.49" width="4.8" height="1.34" fill="#000000"/>
<rect x="161.50" y="359.83" width="4.8" height="3.35" fill="#ff0000"/>
<rect x="161.50" y="363.18" width="4.8" height="23.95" fill="#cc9900"/>
<rect x="161.50" y="387.13" width="4.8" height="23.95" fill="#90c0fa"/>
<rect x="161.50" y="411.08" width="4.8" height="6.53" fill="#cc0066"/>
<rect x="161.50" y="417.62" width="4.8" height="7.70" fill="#4f9ff8"/>
<rect x="161.50" y="425.32" width="4.8" height="2.18" fill="#ff8000"/>
<rect x="168.45" y="260.00" width="4.8" height="42.55" fill="#c0c000"/>
<rect x="168.45" y="302.55" width="4.8" height="75.38" fill="#b554d9"/>
<rect x="168.45" y="377.92" width="4.8" height="1.17" fill="#ff8000"/>
<rect x="168.45" y="379.09" width="4.8" height="4.02" fill="#8080ff"/>
<rect x="168.45" y="383.11" width="4.8" height="0.84" fill="#000000"/>
<rect x="168.45" y="383.95" width="4.8" height="5.86" fill="#ff0000"/>
<rect x="168.45" y="389.81" width="4.8" height="3.18" fill="#cc9900"/>
<rect x="168.45" y="393.00" width="4.8" height="15.91" fill="#90c0fa"/>
<rect x="168.45" y="408.91" width="4.8" height="2.34" fill="#cc0066"/>
<rect x="168.45" y="411.25" width="4.8" height="12.06" fill="#4f9ff8"/>
<rect x="168.45" y="423.31" width="4.8" height="1.34" fill="#f5b882"/>
<rect x="168.45" y="424.65" width="4.8" height="2.85" fill="#ff8000"/>
<rect x="175.40" y="260.00" width="4.8" height="18.93" fill="#c0c000"/>
<rect x="175.40" y="278.93" width="4.8" height="102.01" fill="#b554d9"/>
<rect x="175.40" y="380.94" width="4.8" height="3.01" fill="#8080ff"/>
<rect x="175.40" y="383.95" width="4.8" height="1.17" fill="#a00000"/>
<rect x="175.40" y="385.12" width="4.8" height="2.01" fill="#ff0000"/>
<rect x="175.40" y="387.13" width="4.8" height="7.87" fill="#cc9900"/>
<rect x="175.40" y="395.00" width="4.8" height="4.02" fill="#90c0fa"/>
<rect x="175.40" y="399.02" width="4.8" height="5.86" fill="#cc0066"/>
<rect x="175.40" y="404.89" width="4.8" height="20.94" fill="#4f9ff8"/>
<rect x="175.40" y="425.82" width="4.8" height="1.68" fill="#f5b882"/>
<rect x="182.35" y="260.00" width="4.8" height="12.73" fill="#c0c000"/>
<rect x="182.35" y="272.73" width="4.8" height="103.85" fill="#b554d9"/>
<rect x="182.35" y="376.58" width="4.8" height="3.02" fill="#8080ff"/>
<rect x="182.35" y="379.60" width="4.8" height="1.67" fill="#ff0000"/>
<rect x="182.35" y="381.27" width="4.8" height="22.61" fill="#cc9900"/>
<rect x="182.35" y="403.88" width="4.8" height="11.89" fill="#cc0066"/>
<rect x="182.35" y="415.77" width="4.8" height="11.73" fill="#4f9ff8"/>
<rect x="189.30" y="260.00" width="4.8" height="11.73" fill="#c0c000"/>
<rect x="189.30" y="271.73" width="4.8" height="121.77" fill="#b554d9"/>
<rect x="189.30" y="393.50" width="4.8" height="3.69" fill="#8080ff"/>
<rect x="189.30" y="397.18" width="4.8" height="1.84" fill="#ff0000"/>
<rect x="189.30" y="399.02" width="4.8" height="2.01" fill="#cc9900"/>
<rect x="189.30" y="401.03" width="4.8" height="3.85" fill="#90c0fa"/>
<rect x="189.30" y="404.89" width="4.8" height="1.17" fill="#cc0066"/>
<rect x="189.30" y="406.06" width="4.8" height="21.44" fill="#4f9ff8"/>
<rect x="196.25" y="260.00" width="4.8" height="8.04" fill="#c0c000"/>
<rect x="196.25" y="268.04" width="4.8" height="140.20" fill="#b554d9"/>
<rect x="196.25" y="408.24" width="4.8" height="2.85" fill="#8080ff"/>
<rect x="196.25" y="411.08" width="4.8" height="2.51" fill="#ff0000"/>
<rect x="196.25" y="413.60" width="4.8" height="0.33" fill="#cc9900"/>
<rect x="196.25" y="413.93" width="4.8" height="2.85" fill="#cc0066"/>
<rect x="196.25" y="416.78" width="4.8" height="10.72" fill="#4f9ff8"/>
<rect x="203.20" y="260.00" width="4.8" height="12.56" fill="#c0c000"/>
<rect x="203.20" y="272.56" width="4.8" height="130.48" fill="#b554d9"/>
<rect x="203.20" y="403.05" width="4.8" height="3.18" fill="#8080ff"/>
<rect x="203.20" y="406.23" width="4.8" height="1.34" fill="#ff0000"/>
<rect x="203.20" y="407.57" width="4.8" height="3.52" fill="#cc9900"/>
<rect x="203.20" y="411.08" width="4.8" height="3.35" fill="#cc0066"/>
<rect x="203.20" y="414.44" width="4.8" height="13.06" fill="#4f9ff8"/>
<rect x="210.15" y="260.00" width="4.8" height="3.52" fill="#c0c000"/>
<rect x="210.15" y="263.52" width="4.8" height="137.69" fill="#b554d9"/>
<rect x="210.15" y="401.20" width="4.8" height="3.01" fill="#8080ff"/>
<rect x="210.15" y="404.22" width="4.8" height="2.68" fill="#cc9900"/>
<rect x="210.15" y="406.90" width="4.8" height="1.68" fill="#90c0fa"/>
<rect x="210.15" y="408.57" width="4.8" height="1.34" fill="#cc0066"/>
<rect x="210.15" y="409.91" width="4.8" height="17.59" fill="#4f9ff8"/>
<rect x="217.10" y="260.00" width="4.8" height="57.79" fill="#c0c000"/>
<rect x="217.10" y="317.79" width="4.8" height="1.34" fill="#e07a7a"/>
<rect x="217.10" y="319.13" width="4.8" height="2.18" fill="#f5b882"/>
<rect x="217.10" y="321.31" width="4.8" height="4.69" fill="#005c00"/>
<rect x="217.10" y="326.00" width="4.8" height="4.52" fill="#ff8000"/>
<rect x="217.10" y="330.52" width="4.8" height="6.37" fill="#008080"/>
<rect x="217.10" y="336.88" width="4.8" height="1.17" fill="#8b5a1e"/>
<rect x="217.10" y="338.06" width="4.8" height="2.34" fill="#000000"/>
<rect x="217.10" y="340.40" width="4.8" height="1.34" fill="#c8f8e2"/>
<rect x="217.10" y="341.74" width="4.8" height="13.06" fill="#00c000"/>
<rect x="217.10" y="354.81" width="4.8" height="1.51" fill="#8daad6"/>
<rect x="217.10" y="356.31" width="4.8" height="12.39" fill="#cc9900"/>
<rect x="217.10" y="368.71" width="4.8" height="2.01" fill="#808000"/>
<rect x="217.10" y="370.72" width="4.8" height="2.01" fill="#606060"/>
<rect x="217.10" y="372.73" width="4.8" height="3.02" fill="#c4c4ff"/>
<rect x="217.10" y="375.74" width="4.8" height="1.34" fill="#cc0066"/>
<rect x="217.10" y="377.08" width="4.8" height="1.84" fill="#f5b882"/>
<rect x="217.10" y="378.93" width="4.8" height="8.88" fill="#4f9ff8"/>
<rect x="217.10" y="387.80" width="4.8" height="1.68" fill="#a00000"/>
<rect x="217.10" y="389.48" width="4.8" height="2.85" fill="#c8f8e2"/>
<rect x="217.10" y="392.32" width="4.8" height="3.52" fill="#8b5a1e"/>
<rect x="217.10" y="395.84" width="4.8" height="21.27" fill="#ff99cc"/>
<rect x="217.10" y="417.12" width="4.8" height="1.84" fill="#ff8000"/>
<rect x="217.10" y="418.96" width="4.8" height="6.87" fill="#1899ae"/>
<rect x="217.10" y="425.82" width="4.8" height="1.68" fill="#9cc8be"/>
<rect x="224.05" y="260.00" width="4.8" height="45.73" fill="#c0c000"/>
<rect x="224.05" y="305.73" width="4.8" height="2.18" fill="#c4c4ff"/>
<rect x="224.05" y="307.90" width="4.8" height="1.34" fill="#f5b882"/>
<rect x="224.05" y="309.25" width="4.8" height="3.85" fill="#005c00"/>
<rect x="224.05" y="313.10" width="4.8" height="4.69" fill="#ff8000"/>
<rect x="224.05" y="317.79" width="4.8" height="6.20" fill="#008080"/>
<rect x="224.05" y="323.99" width="4.8" height="1.34" fill="#8b5a1e"/>
<rect x="224.05" y="325.32" width="4.8" height="1.84" fill="#000000"/>
<rect x="224.05" y="327.17" width="4.8" height="1.00" fill="#c8f8e2"/>
<rect x="224.05" y="328.17" width="4.8" height="21.44" fill="#00c000"/>
<rect x="224.05" y="349.61" width="4.8" height="1.34" fill="#8daad6"/>
<rect x="224.05" y="350.95" width="4.8" height="19.43" fill="#cc9900"/>
<rect x="224.05" y="370.38" width="4.8" height="1.34" fill="#808000"/>
<rect x="224.05" y="371.72" width="4.8" height="2.18" fill="#606060"/>
<rect x="224.05" y="373.90" width="4.8" height="1.84" fill="#c4c4ff"/>
<rect x="224.05" y="375.74" width="4.8" height="2.18" fill="#cc0066"/>
<rect x="224.05" y="377.92" width="4.8" height="1.68" fill="#f5b882"/>
<rect x="224.05" y="379.60" width="4.8" height="7.54" fill="#4f9ff8"/>
<rect x="224.05" y="387.13" width="4.8" height="1.84" fill="#a00000"/>
<rect x="224.05" y="388.98" width="4.8" height="1.84" fill="#c8f8e2"/>
<rect x="224.05" y="390.82" width="4.8" height="2.18" fill="#8b5a1e"/>
<rect x="224.05" y="393.00" width="4.8" height="20.10" fill="#ff99cc"/>
<rect x="224.05" y="413.10" width="4.8" height="1.17" fill="#ff8000"/>
<rect x="224.05" y="414.27" width="4.8" height="11.56" fill="#1899ae"/>
<rect x="224.05" y="425.82" width="4.8" height="1.68" fill="#9cc8be"/>
<rect x="231.00" y="260.00" width="4.8" height="56.11" fill="#c0c000"/>
<rect x="231.00" y="316.11" width="4.8" height="2.01" fill="#f5b882"/>
<rect x="231.00" y="318.12" width="4.8" height="6.87" fill="#005c00"/>
<rect x="231.00" y="324.99" width="4.8" height="4.52" fill="#ff8000"/>
<rect x="231.00" y="329.51" width="4.8" height="4.69" fill="#008080"/>
<rect x="231.00" y="334.20" width="4.8" height="1.34" fill="#8b5a1e"/>
<rect x="231.00" y="335.54" width="4.8" height="2.34" fill="#000000"/>
<rect x="231.00" y="337.89" width="4.8" height="0.84" fill="#c8f8e2"/>
<rect x="231.00" y="338.73" width="4.8" height="11.05" fill="#00c000"/>
<rect x="231.00" y="349.78" width="4.8" height="1.34" fill="#8daad6"/>
<rect x="231.00" y="351.12" width="4.8" height="17.25" fill="#cc9900"/>
<rect x="231.00" y="368.37" width="4.8" height="2.85" fill="#808000"/>
<rect x="231.00" y="371.22" width="4.8" height="1.84" fill="#606060"/>
<rect x="231.00" y="373.06" width="4.8" height="3.52" fill="#c4c4ff"/>
<rect x="231.00" y="376.58" width="4.8" height="2.01" fill="#cc0066"/>
<rect x="231.00" y="378.59" width="4.8" height="1.67" fill="#f5b882"/>
<rect x="231.00" y="380.26" width="4.8" height="8.71" fill="#4f9ff8"/>
<rect x="231.00" y="388.98" width="4.8" height="1.84" fill="#a00000"/>
<rect x="231.00" y="390.82" width="4.8" height="3.18" fill="#c8f8e2"/>
<rect x="231.00" y="394.00" width="4.8" height="3.01" fill="#8b5a1e"/>
<rect x="231.00" y="397.01" width="4.8" height="18.09" fill="#ff99cc"/>
<rect x="231.00" y="415.11" width="4.8" height="1.67" fill="#ff8000"/>
<rect x="231.00" y="416.78" width="4.8" height="9.05" fill="#1899ae"/>
<rect x="231.00" y="425.82" width="4.8" height="1.68" fill="#9cc8be"/>
<rect x="237.95" y="260.00" width="4.8" height="40.03" fill="#c0c000"/>
<rect x="237.95" y="300.03" width="4.8" height="1.34" fill="#f5b882"/>
<rect x="237.95" y="301.37" width="4.8" height="5.53" fill="#005c00"/>
<rect x="237.95" y="306.90" width="4.8" height="2.51" fill="#ff8000"/>
<rect x="237.95" y="309.41" width="4.8" height="4.69" fill="#008080"/>
<rect x="237.95" y="314.10" width="4.8" height="1.68" fill="#000000"/>
<rect x="237.95" y="315.78" width="4.8" height="40.37" fill="#00c000"/>
<rect x="237.95" y="356.14" width="4.8" height="1.68" fill="#8daad6"/>
<rect x="237.95" y="357.82" width="4.8" height="23.12" fill="#cc9900"/>
<rect x="237.95" y="380.94" width="4.8" height="2.51" fill="#8daad6"/>
<rect x="237.95" y="383.45" width="4.8" height="1.68" fill="#808000"/>
<rect x="237.95" y="385.12" width="4.8" height="1.68" fill="#606060"/>
<rect x="237.95" y="386.80" width="4.8" height="2.34" fill="#c4c4ff"/>
<rect x="237.95" y="389.14" width="4.8" height="2.18" fill="#cc0066"/>
<rect x="237.95" y="391.32" width="4.8" height="1.00" fill="#f5b882"/>
<rect x="237.95" y="392.32" width="4.8" height="6.70" fill="#4f9ff8"/>
<rect x="237.95" y="399.02" width="4.8" height="1.84" fill="#a00000"/>
<rect x="237.95" y="400.87" width="4.8" height="2.01" fill="#c8f8e2"/>
<rect x="237.95" y="402.88" width="4.8" height="2.01" fill="#8b5a1e"/>
<rect x="237.95" y="404.89" width="4.8" height="13.23" fill="#ff99cc"/>
<rect x="237.95" y="418.12" width="4.8" height="1.00" fill="#ff8000"/>
<rect x="237.95" y="419.12" width="4.8" height="6.70" fill="#1899ae"/>
<rect x="237.95" y="425.82" width="4.8" height="1.68" fill="#9cc8be"/>
<rect x="244.90" y="260.00" width="4.8" height="51.25" fill="#c0c000"/>
<rect x="244.90" y="311.25" width="4.8" height="2.18" fill="#c4c4ff"/>
<rect x="244.90" y="313.43" width="4.8" height="1.68" fill="#f5b882"/>
<rect x="244.90" y="315.11" width="4.8" height="4.69" fill="#005c00"/>
<rect x="244.90" y="319.80" width="4.8" height="4.86" fill="#ff8000"/>
<rect x="244.90" y="324.65" width="4.8" height="4.02" fill="#008080"/>
<rect x="244.90" y="328.68" width="4.8" height="1.17" fill="#8b5a1e"/>
<rect x="244.90" y="329.85" width="4.8" height="1.84" fill="#000000"/>
<rect x="244.90" y="331.69" width="4.8" height="1.00" fill="#c8f8e2"/>
<rect x="244.90" y="332.69" width="4.8" height="26.13" fill="#00c000"/>
<rect x="244.90" y="358.82" width="4.8" height="1.68" fill="#8daad6"/>
<rect x="244.90" y="360.50" width="4.8" height="15.24" fill="#cc9900"/>
<rect x="244.90" y="375.74" width="4.8" height="2.18" fill="#808000"/>
<rect x="244.90" y="377.92" width="4.8" height="1.68" fill="#606060"/>
<rect x="244.90" y="379.60" width="4.8" height="3.52" fill="#c4c4ff"/>
<rect x="244.90" y="383.11" width="4.8" height="1.00" fill="#cc0066"/>
<rect x="244.90" y="384.12" width="4.8" height="1.68" fill="#f5b882"/>
<rect x="244.90" y="385.79" width="4.8" height="7.54" fill="#4f9ff8"/>
<rect x="244.90" y="393.33" width="4.8" height="1.68" fill="#a00000"/>
<rect x="244.90" y="395.00" width="4.8" height="2.35" fill="#c8f8e2"/>
<rect x="244.90" y="397.35" width="4.8" height="2.85" fill="#8b5a1e"/>
<rect x="244.90" y="400.20" width="4.8" height="17.75" fill="#ff99cc"/>
<rect x="244.90" y="417.95" width="4.8" height="1.34" fill="#ff8000"/>
<rect x="244.90" y="419.29" width="4.8" height="6.53" fill="#1899ae"/>
<rect x="244.90" y="425.82" width="4.8" height="1.68" fill="#9cc8be"/>
<rect x="251.85" y="260.00" width="4.8" height="47.57" fill="#c0c000"/>
<rect x="251.85" y="307.57" width="4.8" height="1.34" fill="#c4c4ff"/>
<rect x="251.85" y="308.91" width="4.8" height="1.00" fill="#f5b882"/>
<rect x="251.85" y="309.91" width="4.8" height="4.02" fill="#005c00"/>
<rect x="251.85" y="313.94" width="4.8" height="5.03" fill="#ff8000"/>
<rect x="251.85" y="318.96" width="4.8" height="6.36" fill="#008080"/>
<rect x="251.85" y="325.32" width="4.8" height="1.17" fill="#8b5a1e"/>
<rect x="251.85" y="326.50" width="4.8" height="1.51" fill="#000000"/>
<rect x="251.85" y="328.00" width="4.8" height="1.34" fill="#c8f8e2"/>
<rect x="251.85" y="329.35" width="4.8" height="19.93" fill="#00c000"/>
<rect x="251.85" y="349.28" width="4.8" height="0.50" fill="#8daad6"/>
<rect x="251.85" y="349.78" width="4.8" height="16.25" fill="#cc9900"/>
<rect x="251.85" y="366.03" width="4.8" height="7.37" fill="#8daad6"/>
<rect x="251.85" y="373.40" width="4.8" height="1.84" fill="#808000"/>
<rect x="251.85" y="375.24" width="4.8" height="1.34" fill="#606060"/>
<rect x="251.85" y="376.58" width="4.8" height="2.01" fill="#c4c4ff"/>
<rect x="251.85" y="378.59" width="4.8" height="2.18" fill="#cc0066"/>
<rect x="251.85" y="380.77" width="4.8" height="1.34" fill="#f5b882"/>
<rect x="251.85" y="382.11" width="4.8" height="7.70" fill="#4f9ff8"/>
<rect x="251.85" y="389.81" width="4.8" height="1.84" fill="#a00000"/>
<rect x="251.85" y="391.65" width="4.8" height="1.84" fill="#c8f8e2"/>
<rect x="251.85" y="393.50" width="4.8" height="3.18" fill="#8b5a1e"/>
<rect x="251.85" y="396.68" width="4.8" height="17.08" fill="#ff99cc"/>
<rect x="251.85" y="413.76" width="4.8" height="1.34" fill="#ff8000"/>
<rect x="251.85" y="415.11" width="4.8" height="10.72" fill="#1899ae"/>
<rect x="251.85" y="425.82" width="4.8" height="1.68" fill="#9cc8be"/>
<rect x="258.80" y="260.00" width="4.8" height="17.92" fill="#c0c000"/>
<rect x="258.80" y="277.92" width="4.8" height="3.01" fill="#e07a7a"/>
<rect x="258.80" y="280.94" width="4.8" height="17.75" fill="#a8d080"/>
<rect x="258.80" y="298.69" width="4.8" height="1.17" fill="#f5b882"/>
<rect x="258.80" y="299.87" width="4.8" height="2.85" fill="#005c00"/>
<rect x="258.80" y="302.71" width="4.8" height="25.96" fill="#8080ff"/>
<rect x="258.80" y="328.68" width="4.8" height="1.17" fill="#000000"/>
<rect x="258.80" y="329.85" width="4.8" height="1.68" fill="#00c000"/>
<rect x="258.80" y="331.52" width="4.8" height="4.02" fill="#8a90d4"/>
<rect x="258.80" y="335.54" width="4.8" height="42.04" fill="#cc9900"/>
<rect x="258.80" y="377.58" width="4.8" height="7.54" fill="#cc0066"/>
<rect x="258.80" y="385.12" width="4.8" height="2.01" fill="#f5b882"/>
<rect x="258.80" y="387.13" width="4.8" height="21.94" fill="#4f9ff8"/>
<rect x="258.80" y="409.07" width="4.8" height="2.18" fill="#a00000"/>
<rect x="258.80" y="411.25" width="4.8" height="9.38" fill="#d8acac"/>
<rect x="258.80" y="420.63" width="4.8" height="2.51" fill="#c8f8e2"/>
<rect x="258.80" y="423.14" width="4.8" height="1.68" fill="#ff8000"/>
<rect x="258.80" y="424.82" width="4.8" height="2.68" fill="#a0a0a0"/>
<rect x="265.75" y="260.00" width="4.8" height="19.60" fill="#c0c000"/>
<rect x="265.75" y="279.60" width="4.8" height="1.34" fill="#e07a7a"/>
<rect x="265.75" y="280.94" width="4.8" height="36.85" fill="#a8d080"/>
<rect x="265.75" y="317.79" width="4.8" height="1.17" fill="#f5b882"/>
<rect x="265.75" y="318.96" width="4.8" height="2.51" fill="#005c00"/>
<rect x="265.75" y="321.47" width="4.8" height="21.27" fill="#8080ff"/>
<rect x="265.75" y="342.75" width="4.8" height="1.00" fill="#000000"/>
<rect x="265.75" y="343.75" width="4.8" height="5.86" fill="#00c000"/>
<rect x="265.75" y="349.61" width="4.8" height="3.35" fill="#8a90d4"/>
<rect x="265.75" y="352.96" width="4.8" height="30.99" fill="#cc9900"/>
<rect x="265.75" y="383.95" width="4.8" height="2.51" fill="#cc0066"/>
<rect x="265.75" y="386.46" width="4.8" height="1.34" fill="#f5b882"/>
<rect x="265.75" y="387.80" width="4.8" height="29.31" fill="#4f9ff8"/>
<rect x="265.75" y="417.12" width="4.8" height="2.18" fill="#a00000"/>
<rect x="265.75" y="419.29" width="4.8" height="2.68" fill="#c8f8e2"/>
<rect x="265.75" y="421.97" width="4.8" height="1.67" fill="#ff99cc"/>
<rect x="265.75" y="423.65" width="4.8" height="1.34" fill="#ff8000"/>
<rect x="265.75" y="424.99" width="4.8" height="2.51" fill="#a0a0a0"/>
<rect x="272.70" y="260.00" width="4.8" height="15.41" fill="#c0c000"/>
<rect x="272.70" y="275.41" width="4.8" height="1.68" fill="#e07a7a"/>
<rect x="272.70" y="277.09" width="4.8" height="27.80" fill="#a8d080"/>
<rect x="272.70" y="304.89" width="4.8" height="1.84" fill="#f5b882"/>
<rect x="272.70" y="306.73" width="4.8" height="1.34" fill="#005c00"/>
<rect x="272.70" y="308.07" width="4.8" height="21.77" fill="#8080ff"/>
<rect x="272.70" y="329.85" width="4.8" height="1.00" fill="#000000"/>
<rect x="272.70" y="330.85" width="4.8" height="4.02" fill="#00c000"/>
<rect x="272.70" y="334.87" width="4.8" height="2.01" fill="#8a90d4"/>
<rect x="272.70" y="336.88" width="4.8" height="27.13" fill="#cc9900"/>
<rect x="272.70" y="364.02" width="4.8" height="2.68" fill="#cc0066"/>
<rect x="272.70" y="366.70" width="4.8" height="49.08" fill="#4f9ff8"/>
<rect x="272.70" y="415.77" width="4.8" height="2.18" fill="#a00000"/>
<rect x="272.70" y="417.95" width="4.8" height="4.69" fill="#d8acac"/>
<rect x="272.70" y="422.64" width="4.8" height="1.00" fill="#c8f8e2"/>
<rect x="272.70" y="423.65" width="4.8" height="1.68" fill="#ff8000"/>
<rect x="272.70" y="425.32" width="4.8" height="2.18" fill="#a0a0a0"/>
<rect x="279.65" y="260.00" width="4.8" height="13.40" fill="#c0c000"/>
<rect x="279.65" y="273.40" width="4.8" height="2.85" fill="#e07a7a"/>
<rect x="279.65" y="276.25" width="4.8" height="56.28" fill="#a8d080"/>
<rect x="279.65" y="332.53" width="4.8" height="1.51" fill="#005c00"/>
<rect x="279.65" y="334.03" width="4.8" height="15.58" fill="#8080ff"/>
<rect x="279.65" y="349.61" width="4.8" height="1.00" fill="#a8d080"/>
<rect x="279.65" y="350.62" width="4.8" height="33.17" fill="#cc9900"/>
<rect x="279.65" y="383.78" width="4.8" height="4.35" fill="#cc0066"/>
<rect x="279.65" y="388.14" width="4.8" height="34.50" fill="#4f9ff8"/>
<rect x="279.65" y="422.64" width="4.8" height="2.18" fill="#a00000"/>
<rect x="279.65" y="424.82" width="4.8" height="2.01" fill="#ff8000"/>
<rect x="279.65" y="426.83" width="4.8" height="0.67" fill="#a0a0a0"/>
<rect x="286.60" y="260.00" width="4.8" height="18.93" fill="#c0c000"/>
<rect x="286.60" y="278.93" width="4.8" height="2.01" fill="#e07a7a"/>
<rect x="286.60" y="280.94" width="4.8" height="32.16" fill="#a8d080"/>
<rect x="286.60" y="313.10" width="4.8" height="1.34" fill="#f5b882"/>
<rect x="286.60" y="314.44" width="4.8" height="2.68" fill="#005c00"/>
<rect x="286.60" y="317.12" width="4.8" height="23.28" fill="#8080ff"/>
<rect x="286.60" y="340.40" width="4.8" height="1.00" fill="#a00000"/>
<rect x="286.60" y="341.40" width="4.8" height="6.03" fill="#00c000"/>
<rect x="286.60" y="347.44" width="4.8" height="3.85" fill="#8a90d4"/>
<rect x="286.60" y="351.29" width="4.8" height="26.63" fill="#cc9900"/>
<rect x="286.60" y="377.92" width="4.8" height="3.01" fill="#cc0066"/>
<rect x="286.60" y="380.94" width="4.8" height="35.84" fill="#4f9ff8"/>
<rect x="286.60" y="416.78" width="4.8" height="2.35" fill="#a00000"/>
<rect x="286.60" y="419.12" width="4.8" height="2.85" fill="#c8f8e2"/>
<rect x="286.60" y="421.97" width="4.8" height="1.67" fill="#ff99cc"/>
<rect x="286.60" y="423.65" width="4.8" height="1.34" fill="#ff8000"/>
<rect x="286.60" y="424.99" width="4.8" height="2.51" fill="#a0a0a0"/>
<rect x="293.55" y="260.00" width="4.8" height="15.24" fill="#c0c000"/>
<rect x="293.55" y="275.24" width="4.8" height="1.01" fill="#e07a7a"/>
<rect x="293.55" y="276.25" width="4.8" height="25.12" fill="#a8d080"/>
<rect x="293.55" y="301.37" width="4.8" height="1.00" fill="#ff99cc"/>
<rect x="293.55" y="302.38" width="4.8" height="2.01" fill="#005c00"/>
<rect x="293.55" y="304.39" width="4.8" height="24.12" fill="#8080ff"/>
<rect x="293.55" y="328.51" width="4.8" height="1.00" fill="#000000"/>
<rect x="293.55" y="329.51" width="4.8" height="4.02" fill="#00c000"/>
<rect x="293.55" y="333.53" width="4.8" height="2.01" fill="#8a90d4"/>
<rect x="293.55" y="335.54" width="4.8" height="23.78" fill="#cc9900"/>
<rect x="293.55" y="359.33" width="4.8" height="2.85" fill="#cc0066"/>
<rect x="293.55" y="362.18" width="4.8" height="53.60" fill="#4f9ff8"/>
<rect x="293.55" y="415.77" width="4.8" height="2.18" fill="#a00000"/>
<rect x="293.55" y="417.95" width="4.8" height="4.69" fill="#d8acac"/>
<rect x="293.55" y="422.64" width="4.8" height="1.00" fill="#c8f8e2"/>
<rect x="293.55" y="423.65" width="4.8" height="1.68" fill="#ff8000"/>
<rect x="293.55" y="425.32" width="4.8" height="2.18" fill="#a0a0a0"/>
<line x1="90.85" y1="260.00" x2="90.85" y2="427.00" stroke="#5cc0a0" stroke-width="1.2" stroke-dasharray="2.3 1.8"/>
<line x1="132.55" y1="260.00" x2="132.55" y2="427.00" stroke="#5cc0a0" stroke-width="1.2" stroke-dasharray="2.3 1.8"/>
<line x1="174.25" y1="260.00" x2="174.25" y2="427.00" stroke="#5cc0a0" stroke-width="1.2" stroke-dasharray="2.3 1.8"/>
<line x1="215.95" y1="260.00" x2="215.95" y2="427.00" stroke="#5cc0a0" stroke-width="1.2" stroke-dasharray="2.3 1.8"/>
<line x1="257.65" y1="260.00" x2="257.65" y2="427.00" stroke="#5cc0a0" stroke-width="1.2" stroke-dasharray="2.3 1.8"/>
<line x1="48.00" y1="259.20" x2="48.00" y2="428.50" stroke="#000" stroke-width="2" />
<line x1="47.00" y1="427.60" x2="301.20" y2="427.60" stroke="#000" stroke-width="2" />
<line x1="43.50" y1="427.50" x2="48.00" y2="427.50" stroke="#000" stroke-width="2" />
<text x="41.50" y="430.90" font-size="9.5" font-weight="bold" text-anchor="end" fill="#231f20" stroke="#231f20" stroke-width="0.3" >0</text>
<line x1="43.50" y1="394.00" x2="48.00" y2="394.00" stroke="#000" stroke-width="2" />
<text x="41.50" y="397.40" font-size="9.5" font-weight="bold" text-anchor="end" fill="#231f20" stroke="#231f20" stroke-width="0.3" >20</text>
<line x1="43.50" y1="360.50" x2="48.00" y2="360.50" stroke="#000" stroke-width="2" />
<text x="41.50" y="363.90" font-size="9.5" font-weight="bold" text-anchor="end" fill="#231f20" stroke="#231f20" stroke-width="0.3" >40</text>
<line x1="43.50" y1="327.00" x2="48.00" y2="327.00" stroke="#000" stroke-width="2" />
<text x="41.50" y="330.40" font-size="9.5" font-weight="bold" text-anchor="end" fill="#231f20" stroke="#231f20" stroke-width="0.3" >60</text>
<line x1="43.50" y1="293.50" x2="48.00" y2="293.50" stroke="#000" stroke-width="2" />
<text x="41.50" y="296.90" font-size="9.5" font-weight="bold" text-anchor="end" fill="#231f20" stroke="#231f20" stroke-width="0.3" >80</text>
<line x1="43.50" y1="260.00" x2="48.00" y2="260.00" stroke="#000" stroke-width="2" />
<text x="41.50" y="263.40" font-size="9.5" font-weight="bold" text-anchor="end" fill="#231f20" stroke="#231f20" stroke-width="0.3" >100</text>
<text x="70.08" y="438.20" font-size="7" font-weight="bold" text-anchor="middle" fill="#000" stroke="#000" stroke-width="0.3" >Health</text>
<text x="111.78" y="438.20" font-size="7" font-weight="bold" text-anchor="middle" fill="#000" stroke="#000" stroke-width="0.3" >PBS</text>
<text x="153.47" y="438.20" font-size="7" font-weight="bold" text-anchor="middle" fill="#000" stroke="#000" stroke-width="0.3" >HMs</text>
<text x="195.17" y="438.20" font-size="7" font-weight="bold" text-anchor="middle" fill="#000" stroke="#000" stroke-width="0.3" >Phages</text>
<text x="236.88" y="438.20" font-size="7" font-weight="bold" text-anchor="middle" fill="#000" stroke="#000" stroke-width="0.3" >HMs-Phages</text>
<text x="278.57" y="438.20" font-size="7" font-weight="bold" text-anchor="middle" fill="#000" stroke="#000" stroke-width="0.3" >CIP</text>
<text x="22" y="344" font-size="11.8" font-weight="bold" text-anchor="middle" fill="#231f20" stroke="#231f20" stroke-width="0.3" transform="rotate(-90 22 344)">Relative abundance (%)</text>
<rect x="307.4" y="261.20" width="7.6" height="3.6" fill="#8daad6"/>
<text x="319.40" y="265.10" font-size="5.9" fill="#1a1a1a">Lactobacillus</text>
<rect x="307.4" y="270.69" width="7.6" height="3.6" fill="#808000"/>
<text x="319.40" y="274.59" font-size="5.9" fill="#1a1a1a">Lacrimispora</text>
<rect x="307.4" y="280.18" width="7.6" height="3.6" fill="#606060"/>
<text x="319.40" y="284.08" font-size="5.9" fill="#1a1a1a">Intestinimonas</text>
<rect x="307.4" y="289.67" width="7.6" height="3.6" fill="#c4c4ff"/>
<text x="319.40" y="293.57" font-size="5.9" fill="#1a1a1a">Faecalibacterium</text>
<rect x="307.4" y="299.16" width="7.6" height="3.6" fill="#90c0fa"/>
<text x="319.40" y="303.06" font-size="5.9" fill="#1a1a1a">Escherichia</text>
<rect x="307.4" y="308.65" width="7.6" height="3.6" fill="#cc0066"/>
<text x="319.40" y="312.55" font-size="5.9" fill="#1a1a1a">Enterococcus</text>
<rect x="307.4" y="318.14" width="7.6" height="3.6" fill="#f5b882"/>
<text x="319.40" y="322.04" font-size="5.9" fill="#1a1a1a">Coprococcus</text>
<rect x="307.4" y="327.63" width="7.6" height="3.6" fill="#4f9ff8"/>
<text x="319.40" y="331.53" font-size="5.9" fill="#1a1a1a">Clostridium</text>
<rect x="307.4" y="337.12" width="7.6" height="3.6" fill="#a00000"/>
<text x="319.40" y="341.02" font-size="5.9" fill="#1a1a1a">Clostridioides</text>
<rect x="307.4" y="346.61" width="7.6" height="3.6" fill="#d8acac"/>
<text x="319.40" y="350.51" font-size="5.9" fill="#1a1a1a">Cellulosilyticum</text>
<rect x="307.4" y="356.10" width="7.6" height="3.6" fill="#c8f8e2"/>
<text x="319.40" y="360.00" font-size="5.9" fill="#1a1a1a">Blautia</text>
<rect x="307.4" y="365.59" width="7.6" height="3.6" fill="#8b5a1e"/>
<text x="319.40" y="369.49" font-size="5.9" fill="#1a1a1a">Barnesiella</text>
<rect x="307.4" y="375.08" width="7.6" height="3.6" fill="#ff99cc"/>
<text x="319.40" y="378.98" font-size="5.9" fill="#1a1a1a">Bacteroides</text>
<rect x="307.4" y="384.57" width="7.6" height="3.6" fill="#ff8000"/>
<text x="319.40" y="388.47" font-size="5.9" fill="#1a1a1a">Bacillus</text>
<rect x="307.4" y="394.06" width="7.6" height="3.6" fill="#a0a0a0"/>
<text x="319.40" y="397.96" font-size="5.9" fill="#1a1a1a">Anaerostipes</text>
<rect x="307.4" y="403.55" width="7.6" height="3.6" fill="#1899ae"/>
<text x="319.40" y="407.45" font-size="5.9" fill="#1a1a1a">Alistipes</text>
<rect x="307.4" y="413.04" width="7.6" height="3.6" fill="#9cc8be"/>
<text x="319.40" y="416.94" font-size="5.9" fill="#1a1a1a">Agathobacter</text>
<rect x="307.4" y="422.53" width="7.6" height="3.6" fill="#0000ff"/>
<text x="319.40" y="426.43" font-size="5.9" fill="#1a1a1a">Adlercreutzia</text>
<rect x="372.4" y="261.20" width="7.6" height="3.6" fill="#c0c000"/>
<text x="384.40" y="265.10" font-size="5.9" fill="#1a1a1a">Others</text>
<rect x="372.4" y="270.69" width="7.6" height="3.6" fill="#e07a7a"/>
<text x="384.40" y="274.59" font-size="5.9" fill="#1a1a1a">Turicibacter</text>
<rect x="372.4" y="280.18" width="7.6" height="3.6" fill="#a8d080"/>
<text x="384.40" y="284.08" font-size="5.9" fill="#1a1a1a">Streptococcus</text>
<rect x="372.4" y="289.67" width="7.6" height="3.6" fill="#b554d9"/>
<text x="384.40" y="293.57" font-size="5.9" fill="#1a1a1a">Salmonella</text>
<rect x="372.4" y="299.16" width="7.6" height="3.6" fill="#f2b583"/>
<text x="384.40" y="303.06" font-size="5.9" fill="#1a1a1a">Ruminococcus</text>
<rect x="372.4" y="308.65" width="7.6" height="3.6" fill="#005c00"/>
<text x="384.40" y="312.55" font-size="5.9" fill="#1a1a1a">Roseburia</text>
<rect x="372.4" y="318.14" width="7.6" height="3.6" fill="#ff8000"/>
<text x="384.40" y="322.04" font-size="5.9" fill="#1a1a1a">Prevotella</text>
<rect x="372.4" y="327.63" width="7.6" height="3.6" fill="#008080"/>
<text x="384.40" y="331.53" font-size="5.9" fill="#1a1a1a">Phocaeicola</text>
<rect x="372.4" y="337.12" width="7.6" height="3.6" fill="#8080ff"/>
<text x="384.40" y="341.02" font-size="5.9" fill="#1a1a1a">Paraclostridium</text>
<rect x="372.4" y="346.61" width="7.6" height="3.6" fill="#8b5a1e"/>
<text x="384.40" y="350.51" font-size="5.9" fill="#1a1a1a">Parabacteroides</text>
<rect x="372.4" y="356.10" width="7.6" height="3.6" fill="#000000"/>
<text x="384.40" y="360.00" font-size="5.9" fill="#1a1a1a">Paenibacillus</text>
<rect x="372.4" y="365.59" width="7.6" height="3.6" fill="#d3d3d3"/>
<text x="384.40" y="369.49" font-size="5.9" fill="#1a1a1a">Odoribacter</text>
<rect x="372.4" y="375.08" width="7.6" height="3.6" fill="#f0208a"/>
<text x="384.40" y="378.98" font-size="5.9" fill="#1a1a1a">Mycoplasmopsis</text>
<rect x="372.4" y="384.57" width="7.6" height="3.6" fill="#00c000"/>
<text x="384.40" y="388.47" font-size="5.9" fill="#1a1a1a">Mucispirillum</text>
<rect x="372.4" y="394.06" width="7.6" height="3.6" fill="#ff0000"/>
<text x="384.40" y="397.96" font-size="5.9" fill="#1a1a1a">Mesomycoplasma</text>
<rect x="372.4" y="403.55" width="7.6" height="3.6" fill="#8a90d4"/>
<text x="384.40" y="407.45" font-size="5.9" fill="#1a1a1a">Mediterraneibacter</text>
<rect x="372.4" y="413.04" width="7.6" height="3.6" fill="#00ffff"/>
<text x="384.40" y="416.94" font-size="5.9" fill="#1a1a1a">Lysinibacillus</text>
<rect x="372.4" y="422.53" width="7.6" height="3.6" fill="#cc9900"/>
<text x="384.40" y="426.43" font-size="5.9" fill="#1a1a1a">Ligilactobacillus</text>
<line x1="479.00" y1="362.40" x2="638.60" y2="362.40" stroke="#bdbdbd" stroke-width="0.9" />
<line x1="558.60" y1="251.00" x2="558.60" y2="422.00" stroke="#bdbdbd" stroke-width="0.9" />
<ellipse cx="499.3" cy="390.4" rx="4.3" ry="19.4" transform="rotate(-4.2 499.3 390.4)" fill="#4f9cf9" fill-opacity="0.35" stroke="#4f9cf9" stroke-width="1.1"/>
<ellipse cx="614.2" cy="370.0" rx="22.4" ry="14.5" transform="rotate(33.9 614.2 370.0)" fill="#f98a1a" fill-opacity="0.28" stroke="#e07a10" stroke-width="1.0"/>
<ellipse cx="606.7" cy="377.9" rx="31.6" ry="22.1" transform="rotate(36.6 606.7 377.9)" fill="#1592a8" fill-opacity="0.32" stroke="#1592a8" stroke-width="1.0"/>
<ellipse cx="605.0" cy="359.7" rx="25.6" ry="18.3" transform="rotate(-49.8 605.0 359.7)" fill="#f78cc4" fill-opacity="0.3" stroke="#f06bb0" stroke-width="0.9"/>
<ellipse cx="500.2" cy="395.0" rx="2.6" ry="9.5" transform="rotate(-4 500.2 395.0)" fill="#00b400" fill-opacity="0.35" stroke="#00b400" stroke-width="0.8"/>
<ellipse cx="527.7" cy="277.2" rx="17.6" ry="4.1" transform="rotate(-60.7 527.7 277.2)" fill="#b250d6" fill-opacity="0.32" stroke="#b250d6" stroke-width="0.9"/>
<circle cx="497.5" cy="382.5" r="1.75" fill="#4f9cf9"/>
<circle cx="502" cy="389" r="1.75" fill="#4f9cf9"/>
<circle cx="497.5" cy="391" r="1.75" fill="#4f9cf9"/>
<circle cx="500.5" cy="405" r="1.75" fill="#4f9cf9"/>
<circle cx="499" cy="386" r="1.75" fill="#4f9cf9"/>
<circle cx="501" cy="398" r="1.75" fill="#4f9cf9"/>
<circle cx="614.3" cy="345.4" r="1.75" fill="#f78cc4"/>
<circle cx="590.9" cy="358.5" r="1.75" fill="#f78cc4"/>
<circle cx="599.7" cy="359.1" r="1.75" fill="#f78cc4"/>
<circle cx="608.8" cy="361.3" r="1.75" fill="#f78cc4"/>
<circle cx="612.5" cy="358.8" r="1.75" fill="#f78cc4"/>
<circle cx="604" cy="374.3" r="1.75" fill="#f78cc4"/>
<circle cx="606.2" cy="367" r="1.75" fill="#1592a8"/>
<circle cx="605.6" cy="371.5" r="1.75" fill="#1592a8"/>
<circle cx="588.8" cy="376.4" r="1.75" fill="#1592a8"/>
<circle cx="599.7" cy="385.5" r="1.75" fill="#1592a8"/>
<circle cx="617.7" cy="374.3" r="1.75" fill="#1592a8"/>
<circle cx="620.4" cy="395.5" r="1.75" fill="#1592a8"/>
<circle cx="600.6" cy="367" r="1.75" fill="#f98a1a"/>
<circle cx="607.6" cy="365.2" r="1.75" fill="#f98a1a"/>
<circle cx="616.7" cy="363.6" r="1.75" fill="#f98a1a"/>
<circle cx="622.4" cy="367" r="1.75" fill="#f98a1a"/>
<circle cx="616.4" cy="378" r="1.75" fill="#f98a1a"/>
<circle cx="619.5" cy="380.4" r="1.75" fill="#f98a1a"/>
<circle cx="499.5" cy="388" r="1.75" fill="#00b400"/>
<circle cx="499.5" cy="394" r="1.75" fill="#00b400"/>
<circle cx="500" cy="400" r="1.75" fill="#00b400"/>
<circle cx="501" cy="402" r="1.75" fill="#00b400"/>
<circle cx="500.5" cy="391" r="1.75" fill="#00b400"/>
<circle cx="499.8" cy="397" r="1.75" fill="#00b400"/>
<circle cx="528" cy="273" r="1.75" fill="#b250d6"/>
<circle cx="533.6" cy="268.4" r="1.75" fill="#b250d6"/>
<circle cx="524.6" cy="281.6" r="1.75" fill="#b250d6"/>
<circle cx="527" cy="284.2" r="1.75" fill="#b250d6"/>
<circle cx="530.5" cy="270.5" r="1.75" fill="#b250d6"/>
<circle cx="525.5" cy="279" r="1.75" fill="#b250d6"/>
<rect x="479" y="251" width="159.6" height="171" fill="none" stroke="#222" stroke-width="1.1"/>
<line x1="475.50" y1="261.80" x2="479.00" y2="261.80" stroke="#222" stroke-width="1.0" />
<text x="474.30" y="263.70" font-size="5.4" font-weight="bold" text-anchor="end" fill="#231f20" stroke="#231f20" stroke-width="0.3" >0.5</text>
<line x1="475.50" y1="312.10" x2="479.00" y2="312.10" stroke="#222" stroke-width="1.0" />
<text x="474.30" y="314.00" font-size="5.4" font-weight="bold" text-anchor="end" fill="#231f20" stroke="#231f20" stroke-width="0.3" >0.25</text>
<line x1="475.50" y1="362.40" x2="479.00" y2="362.40" stroke="#222" stroke-width="1.0" />
<text x="474.30" y="364.30" font-size="5.4" font-weight="bold" text-anchor="end" fill="#231f20" stroke="#231f20" stroke-width="0.3" >0</text>
<line x1="475.50" y1="412.70" x2="479.00" y2="412.70" stroke="#222" stroke-width="1.0" />
<text x="474.30" y="414.60" font-size="5.4" font-weight="bold" text-anchor="end" fill="#231f20" stroke="#231f20" stroke-width="0.3" >-0.25</text>
<line x1="488.60" y1="422.00" x2="488.60" y2="425.50" stroke="#222" stroke-width="1.0" />
<text x="488.60" y="433.00" font-size="5.4" font-weight="bold" text-anchor="middle" fill="#231f20" stroke="#231f20" stroke-width="0.3" >-0.5</text>
<line x1="523.60" y1="422.00" x2="523.60" y2="425.50" stroke="#222" stroke-width="1.0" />
<text x="523.60" y="433.00" font-size="5.4" font-weight="bold" text-anchor="middle" fill="#231f20" stroke="#231f20" stroke-width="0.3" >-0.25</text>
<line x1="558.60" y1="422.00" x2="558.60" y2="425.50" stroke="#222" stroke-width="1.0" />
<text x="558.60" y="433.00" font-size="5.4" font-weight="bold" text-anchor="middle" fill="#231f20" stroke="#231f20" stroke-width="0.3" >0</text>
<line x1="593.60" y1="422.00" x2="593.60" y2="425.50" stroke="#222" stroke-width="1.0" />
<text x="593.60" y="433.00" font-size="5.4" font-weight="bold" text-anchor="middle" fill="#231f20" stroke="#231f20" stroke-width="0.3" >0.25</text>
<line x1="628.60" y1="422.00" x2="628.60" y2="425.50" stroke="#222" stroke-width="1.0" />
<text x="628.60" y="433.00" font-size="5.4" font-weight="bold" text-anchor="middle" fill="#231f20" stroke="#231f20" stroke-width="0.3" >0.5</text>
<text x="557.50" y="447.30" font-size="8.2" font-weight="bold" text-anchor="middle" fill="#231f20" stroke="#231f20" stroke-width="0.3" >PCo1 (66.55%)</text>
<text x="459" y="334" font-size="8.2" font-weight="bold" text-anchor="middle" fill="#231f20" stroke="#231f20" stroke-width="0.3" transform="rotate(-90 459 334)">PCo2 (20.38%)</text>
<circle cx="645" cy="254.40" r="2.3" fill="#4f9cf9"/>
<text x="649.6" y="256.50" font-size="6" fill="#1a1a1a">Health</text>
<circle cx="645" cy="264.25" r="2.3" fill="#f78cc4"/>
<text x="649.6" y="266.35" font-size="6" fill="#1a1a1a">PBS</text>
<circle cx="645" cy="274.10" r="2.3" fill="#1592a8"/>
<text x="649.6" y="276.20" font-size="6" fill="#1a1a1a">HMs</text>
<circle cx="645" cy="283.95" r="2.3" fill="#f98a1a"/>
<text x="649.6" y="286.05" font-size="6" fill="#1a1a1a">Phages</text>
<circle cx="645" cy="293.80" r="2.3" fill="#00b400"/>
<text x="649.6" y="295.90" font-size="6" fill="#1a1a1a">HMs-Phages</text>
<circle cx="645" cy="303.65" r="2.3" fill="#b250d6"/>
<text x="649.6" y="305.75" font-size="6" fill="#1a1a1a">CIP</text>
<line x1="53.00" y1="619.40" x2="186.00" y2="619.40" stroke="#111" stroke-width="1.3" stroke-dasharray="1.3 2.8"/>
<line x1="111.68" y1="488.50" x2="111.68" y2="622.60" stroke="#111" stroke-width="1.3" stroke-dasharray="1.3 2.9"/>
<line x1="125.12" y1="488.50" x2="125.12" y2="622.60" stroke="#111" stroke-width="1.3" stroke-dasharray="1.3 2.9"/>
<circle cx="95.50" cy="617.60" r="2.6" fill="#00bb00"/>
<circle cx="101.00" cy="618.40" r="2.6" fill="#00bb00"/>
<circle cx="105.40" cy="618.40" r="2.6" fill="#00bb00"/>
<circle cx="108.60" cy="618.40" r="2.6" fill="#00bb00"/>
<circle cx="111.40" cy="618.60" r="2.45" fill="#a0a0a4"/>
<circle cx="112.20" cy="618.60" r="2.45" fill="#a0a0a4"/>
<circle cx="113.00" cy="618.60" r="2.45" fill="#a0a0a4"/>
<circle cx="113.80" cy="618.60" r="2.45" fill="#a0a0a4"/>
<circle cx="114.60" cy="618.60" r="2.45" fill="#a0a0a4"/>
<circle cx="115.40" cy="618.60" r="2.45" fill="#a0a0a4"/>
<circle cx="116.20" cy="618.60" r="2.45" fill="#a0a0a4"/>
<circle cx="117.00" cy="618.60" r="2.45" fill="#a0a0a4"/>
<circle cx="117.80" cy="618.60" r="2.45" fill="#a0a0a4"/>
<circle cx="118.60" cy="618.60" r="2.45" fill="#a0a0a4"/>
<circle cx="119.40" cy="618.60" r="2.45" fill="#a0a0a4"/>
<circle cx="120.20" cy="618.60" r="2.45" fill="#a0a0a4"/>
<circle cx="121.00" cy="618.60" r="2.45" fill="#a0a0a4"/>
<circle cx="121.80" cy="618.60" r="2.45" fill="#a0a0a4"/>
<circle cx="122.60" cy="618.60" r="2.45" fill="#a0a0a4"/>
<circle cx="123.40" cy="618.60" r="2.45" fill="#a0a0a4"/>
<circle cx="127.40" cy="618.60" r="2.6" fill="#f24a4a"/>
<circle cx="129.40" cy="618.60" r="2.6" fill="#f24a4a"/>
<line x1="51.00" y1="489.00" x2="51.00" y2="624.60" stroke="#000" stroke-width="2" />
<line x1="50.00" y1="623.60" x2="186.00" y2="623.60" stroke="#000" stroke-width="2" />
<line x1="45.00" y1="619.40" x2="51.00" y2="619.40" stroke="#000" stroke-width="2" />
<text x="43.40" y="623.10" font-size="10.2" font-weight="bold" text-anchor="end" fill="#231f20" stroke="#231f20" stroke-width="0.3" >0</text>
<line x1="45.00" y1="576.33" x2="51.00" y2="576.33" stroke="#000" stroke-width="2" />
<text x="43.40" y="580.03" font-size="10.2" font-weight="bold" text-anchor="end" fill="#231f20" stroke="#231f20" stroke-width="0.3" >100</text>
<line x1="45.00" y1="533.26" x2="51.00" y2="533.26" stroke="#000" stroke-width="2" />
<text x="43.40" y="536.96" font-size="10.2" font-weight="bold" text-anchor="end" fill="#231f20" stroke="#231f20" stroke-width="0.3" >200</text>
<line x1="45.00" y1="490.19" x2="51.00" y2="490.19" stroke="#000" stroke-width="2" />
<text x="43.40" y="493.89" font-size="10.2" font-weight="bold" text-anchor="end" fill="#231f20" stroke="#231f20" stroke-width="0.3" >300</text>
<line x1="68.00" y1="623.60" x2="68.00" y2="629.10" stroke="#000" stroke-width="2" />
<text x="68.00" y="641.20" font-size="10.2" font-weight="bold" text-anchor="middle" fill="#231f20" stroke="#231f20" stroke-width="0.3" >-15</text>
<line x1="118.40" y1="623.60" x2="118.40" y2="629.10" stroke="#000" stroke-width="2" />
<text x="118.40" y="641.20" font-size="10.2" font-weight="bold" text-anchor="middle" fill="#231f20" stroke="#231f20" stroke-width="0.3" >0</text>
<line x1="168.80" y1="623.60" x2="168.80" y2="629.10" stroke="#000" stroke-width="2" />
<text x="168.80" y="641.20" font-size="10.2" font-weight="bold" text-anchor="middle" fill="#231f20" stroke="#231f20" stroke-width="0.3" >15</text>
<text x="117.20" y="655.2" font-size="11" font-weight="bold" text-anchor="middle" fill="#231f20" stroke="#231f20" stroke-width="0.3">Log<tspan font-size="7" dy="3">2</tspan><tspan dy="-3">(FC)</tspan></text>
<text x="22.6" y="556.5" font-size="11.3" font-weight="bold" text-anchor="middle" fill="#231f20" stroke="#231f20" stroke-width="0.3" transform="rotate(-90 22.6 556.5)">-Log<tspan font-size="7" dy="3">10</tspan><tspan dy="-3">(FDR)</tspan></text>
<text x="93.00" y="468.20" font-size="9.4" font-weight="bold" text-anchor="start" fill="#231f20" stroke="#231f20" stroke-width="0.3" >PBS vs. Phages</text>
<circle cx="47.40" cy="478.6" r="2.8" fill="#f24a4a"/>
<text x="53.90" y="481.10" font-size="7" font-weight="bold" text-anchor="start" fill="#231f20" stroke="#231f20" stroke-width="0.3" >Up (0.23%)</text>
<circle cx="100.60" cy="478.6" r="2.8" fill="#00bb00"/>
<text x="107.10" y="481.10" font-size="7" font-weight="bold" text-anchor="start" fill="#231f20" stroke="#231f20" stroke-width="0.3" >Down (0.56%)</text>
<circle cx="163.40" cy="478.6" r="2.8" fill="#a0a0a4"/>
<text x="169.90" y="481.10" font-size="7" font-weight="bold" text-anchor="start" fill="#231f20" stroke="#231f20" stroke-width="0.3" >NS (99.21%)</text>
<line x1="288.60" y1="619.40" x2="422.00" y2="619.40" stroke="#111" stroke-width="1.3" stroke-dasharray="1.3 2.8"/>
<line x1="347.28" y1="488.50" x2="347.28" y2="622.60" stroke="#111" stroke-width="1.3" stroke-dasharray="1.3 2.9"/>
<line x1="360.72" y1="488.50" x2="360.72" y2="622.60" stroke="#111" stroke-width="1.3" stroke-dasharray="1.3 2.9"/>
<circle cx="351.52" cy="589.25" r="1.9" fill="#a0a0a4"/>
<circle cx="358.41" cy="578.19" r="1.9" fill="#a0a0a4"/>
<circle cx="358.06" cy="577.55" r="1.9" fill="#a0a0a4"/>
<circle cx="351.20" cy="594.08" r="1.9" fill="#a0a0a4"/>
<circle cx="356.99" cy="593.68" r="1.9" fill="#a0a0a4"/>
<circle cx="358.62" cy="584.82" r="1.9" fill="#a0a0a4"/>
<circle cx="352.72" cy="600.39" r="1.9" fill="#a0a0a4"/>
<circle cx="358.40" cy="577.05" r="1.9" fill="#a0a0a4"/>
<circle cx="350.53" cy="581.35" r="1.9" fill="#a0a0a4"/>
<circle cx="353.01" cy="610.91" r="1.9" fill="#a0a0a4"/>
<circle cx="352.40" cy="603.11" r="1.9" fill="#a0a0a4"/>
<circle cx="350.15" cy="577.76" r="1.9" fill="#a0a0a4"/>
<circle cx="352.25" cy="604.94" r="1.9" fill="#a0a0a4"/>
<circle cx="351.93" cy="600.76" r="1.9" fill="#a0a0a4"/>
<circle cx="355.95" cy="609.95" r="1.9" fill="#a0a0a4"/>
<circle cx="357.41" cy="600.27" r="1.9" fill="#a0a0a4"/>
<circle cx="353.21" cy="607.10" r="1.9" fill="#a0a0a4"/>
<circle cx="350.99" cy="580.19" r="1.9" fill="#a0a0a4"/>
<circle cx="350.23" cy="581.69" r="1.9" fill="#a0a0a4"/>
<circle cx="356.75" cy="604.40" r="1.9" fill="#a0a0a4"/>
<circle cx="353.34" cy="613.52" r="1.9" fill="#a0a0a4"/>
<circle cx="356.85" cy="601.15" r="1.9" fill="#a0a0a4"/>
<circle cx="356.08" cy="611.96" r="1.9" fill="#a0a0a4"/>
<circle cx="352.67" cy="604.22" r="1.9" fill="#a0a0a4"/>
<circle cx="357.12" cy="603.47" r="1.9" fill="#a0a0a4"/>
<circle cx="351.41" cy="587.52" r="1.9" fill="#a0a0a4"/>
<circle cx="349.97" cy="575.99" r="1.9" fill="#a0a0a4"/>
<circle cx="351.00" cy="580.15" r="1.9" fill="#a0a0a4"/>
<circle cx="350.58" cy="580.69" r="1.9" fill="#a0a0a4"/>
<circle cx="353.03" cy="613.34" r="1.9" fill="#a0a0a4"/>
<circle cx="357.42" cy="599.18" r="1.9" fill="#a0a0a4"/>
<circle cx="352.96" cy="613.02" r="1.9" fill="#a0a0a4"/>
<circle cx="358.20" cy="590.79" r="1.9" fill="#a0a0a4"/>
<circle cx="350.46" cy="581.64" r="1.9" fill="#a0a0a4"/>
<circle cx="351.15" cy="585.27" r="1.9" fill="#a0a0a4"/>
<circle cx="351.04" cy="586.56" r="1.9" fill="#a0a0a4"/>
<circle cx="358.16" cy="591.25" r="1.9" fill="#a0a0a4"/>
<circle cx="356.73" cy="605.38" r="1.9" fill="#a0a0a4"/>
<circle cx="352.94" cy="604.75" r="1.9" fill="#a0a0a4"/>
<circle cx="356.66" cy="609.32" r="1.9" fill="#a0a0a4"/>
<circle cx="351.08" cy="592.26" r="1.9" fill="#a0a0a4"/>
<circle cx="351.81" cy="602.91" r="1.9" fill="#a0a0a4"/>
<circle cx="350.78" cy="584.19" r="1.9" fill="#a0a0a4"/>
<circle cx="350.05" cy="577.31" r="1.9" fill="#a0a0a4"/>
<circle cx="350.06" cy="579.46" r="1.9" fill="#a0a0a4"/>
<circle cx="355.58" cy="613.47" r="1.9" fill="#a0a0a4"/>
<circle cx="350.94" cy="586.10" r="1.9" fill="#a0a0a4"/>
<circle cx="359.00" cy="580.41" r="1.9" fill="#a0a0a4"/>
<circle cx="351.29" cy="595.50" r="1.9" fill="#a0a0a4"/>
<circle cx="350.34" cy="579.50" r="1.9" fill="#a0a0a4"/>
<circle cx="352.38" cy="611.47" r="1.9" fill="#a0a0a4"/>
<circle cx="355.33" cy="616.84" r="1.9" fill="#a0a0a4"/>
<circle cx="352.07" cy="598.90" r="1.9" fill="#a0a0a4"/>
<circle cx="355.90" cy="618.05" r="1.9" fill="#a0a0a4"/>
<circle cx="350.74" cy="586.49" r="1.9" fill="#a0a0a4"/>
<circle cx="356.66" cy="608.97" r="1.9" fill="#a0a0a4"/>
<circle cx="351.73" cy="589.51" r="1.9" fill="#a0a0a4"/>
<circle cx="356.02" cy="618.34" r="1.9" fill="#a0a0a4"/>
<circle cx="355.85" cy="611.01" r="1.9" fill="#a0a0a4"/>
<circle cx="351.39" cy="597.78" r="1.9" fill="#a0a0a4"/>
<circle cx="350.10" cy="576.23" r="1.9" fill="#a0a0a4"/>
<circle cx="356.52" cy="605.47" r="1.9" fill="#a0a0a4"/>
<circle cx="356.35" cy="616.23" r="1.9" fill="#a0a0a4"/>
<circle cx="351.14" cy="591.04" r="1.9" fill="#a0a0a4"/>
<circle cx="351.08" cy="583.66" r="1.9" fill="#a0a0a4"/>
<circle cx="355.89" cy="614.61" r="1.9" fill="#a0a0a4"/>
<circle cx="356.21" cy="603.73" r="1.9" fill="#a0a0a4"/>
<circle cx="357.02" cy="604.07" r="1.9" fill="#a0a0a4"/>
<circle cx="352.31" cy="608.01" r="1.9" fill="#a0a0a4"/>
<circle cx="353.19" cy="609.72" r="1.9" fill="#a0a0a4"/>
<circle cx="356.39" cy="612.96" r="1.9" fill="#a0a0a4"/>
<circle cx="354.11" cy="618.47" r="1.9" fill="#a0a0a4"/>
<circle cx="355.40" cy="610.70" r="1.9" fill="#a0a0a4"/>
<circle cx="353.01" cy="610.51" r="1.9" fill="#a0a0a4"/>
<circle cx="356.12" cy="617.07" r="1.9" fill="#a0a0a4"/>
<circle cx="353.08" cy="617.27" r="1.9" fill="#a0a0a4"/>
<circle cx="356.42" cy="615.57" r="1.9" fill="#a0a0a4"/>
<circle cx="353.90" cy="614.49" r="1.9" fill="#a0a0a4"/>
<circle cx="353.02" cy="609.14" r="1.9" fill="#a0a0a4"/>
<circle cx="356.38" cy="615.50" r="1.9" fill="#a0a0a4"/>
<circle cx="354.61" cy="618.34" r="1.9" fill="#a0a0a4"/>
<circle cx="354.24" cy="617.72" r="1.9" fill="#a0a0a4"/>
<circle cx="355.80" cy="611.11" r="1.9" fill="#a0a0a4"/>
<circle cx="353.51" cy="611.93" r="1.9" fill="#a0a0a4"/>
<circle cx="342.82" cy="501.55" r="2.6" fill="#00bb00"/>
<circle cx="341.47" cy="502.45" r="2.6" fill="#00bb00"/>
<circle cx="345.30" cy="496.29" r="2.6" fill="#00bb00"/>
<circle cx="341.90" cy="506.98" r="2.6" fill="#00bb00"/>
<circle cx="345.33" cy="518.00" r="2.6" fill="#00bb00"/>
<circle cx="345.17" cy="510.19" r="2.6" fill="#00bb00"/>
<circle cx="342.22" cy="514.08" r="2.6" fill="#00bb00"/>
<circle cx="335.14" cy="515.13" r="2.6" fill="#00bb00"/>
<circle cx="338.82" cy="511.13" r="2.6" fill="#00bb00"/>
<circle cx="341.83" cy="490.19" r="2.6" fill="#00bb00"/>
<circle cx="341.78" cy="498.27" r="2.6" fill="#00bb00"/>
<circle cx="342.42" cy="524.81" r="2.6" fill="#00bb00"/>
<circle cx="342.39" cy="505.65" r="2.6" fill="#00bb00"/>
<circle cx="344.34" cy="516.66" r="2.6" fill="#00bb00"/>
<circle cx="342.48" cy="495.09" r="2.6" fill="#00bb00"/>
<circle cx="340.08" cy="501.93" r="2.6" fill="#00bb00"/>
<circle cx="341.99" cy="527.07" r="2.6" fill="#00bb00"/>
<circle cx="344.14" cy="516.96" r="2.6" fill="#00bb00"/>
<circle cx="341.36" cy="533.80" r="2.6" fill="#00bb00"/>
<circle cx="341.77" cy="519.40" r="2.6" fill="#00bb00"/>
<circle cx="343.59" cy="514.58" r="2.6" fill="#00bb00"/>
<circle cx="342.32" cy="511.71" r="2.6" fill="#00bb00"/>
<circle cx="345.43" cy="512.95" r="2.6" fill="#00bb00"/>
<circle cx="345.32" cy="523.56" r="2.6" fill="#00bb00"/>
<circle cx="339.10" cy="535.22" r="2.6" fill="#00bb00"/>
<circle cx="345.59" cy="516.86" r="2.6" fill="#00bb00"/>
<circle cx="341.51" cy="573.28" r="2.6" fill="#00bb00"/>
<circle cx="342.08" cy="543.11" r="2.6" fill="#00bb00"/>
<circle cx="339.54" cy="541.05" r="2.6" fill="#00bb00"/>
<circle cx="344.07" cy="541.07" r="2.6" fill="#00bb00"/>
<circle cx="347.17" cy="570.93" r="2.6" fill="#00bb00"/>
<circle cx="344.65" cy="544.49" r="2.6" fill="#00bb00"/>
<circle cx="340.98" cy="565.73" r="2.6" fill="#00bb00"/>
<circle cx="347.78" cy="575.08" r="2.6" fill="#00bb00"/>
<circle cx="346.53" cy="547.22" r="2.6" fill="#00bb00"/>
<circle cx="343.47" cy="554.73" r="2.6" fill="#00bb00"/>
<circle cx="347.12" cy="579.57" r="2.6" fill="#00bb00"/>
<circle cx="342.12" cy="544.78" r="2.6" fill="#00bb00"/>
<circle cx="342.55" cy="559.66" r="2.6" fill="#00bb00"/>
<circle cx="341.08" cy="546.22" r="2.6" fill="#00bb00"/>
<circle cx="339.15" cy="568.33" r="2.6" fill="#00bb00"/>
<circle cx="343.53" cy="561.27" r="2.6" fill="#00bb00"/>
<circle cx="340.43" cy="538.76" r="2.6" fill="#00bb00"/>
<circle cx="344.28" cy="564.20" r="2.6" fill="#00bb00"/>
<circle cx="346.63" cy="540.70" r="2.6" fill="#00bb00"/>
<circle cx="347.61" cy="571.11" r="2.6" fill="#00bb00"/>
<circle cx="340.03" cy="542.40" r="2.6" fill="#00bb00"/>
<circle cx="344.95" cy="539.66" r="2.6" fill="#00bb00"/>
<circle cx="339.11" cy="549.36" r="2.6" fill="#00bb00"/>
<circle cx="346.50" cy="555.73" r="2.6" fill="#00bb00"/>
<circle cx="342.73" cy="572.40" r="2.6" fill="#00bb00"/>
<circle cx="346.22" cy="544.27" r="2.6" fill="#00bb00"/>
<circle cx="345.47" cy="561.96" r="2.6" fill="#00bb00"/>
<circle cx="336.59" cy="541.76" r="2.6" fill="#00bb00"/>
<circle cx="343.78" cy="566.90" r="2.6" fill="#00bb00"/>
<circle cx="346.28" cy="541.04" r="2.6" fill="#00bb00"/>
<circle cx="346.27" cy="564.65" r="2.6" fill="#00bb00"/>
<circle cx="345.65" cy="541.52" r="2.6" fill="#00bb00"/>
<circle cx="345.68" cy="540.80" r="2.6" fill="#00bb00"/>
<circle cx="342.37" cy="557.06" r="2.6" fill="#00bb00"/>
<circle cx="346.86" cy="561.23" r="2.6" fill="#00bb00"/>
<circle cx="339.09" cy="549.25" r="2.6" fill="#00bb00"/>
<circle cx="341.62" cy="560.13" r="2.6" fill="#00bb00"/>
<circle cx="338.62" cy="542.60" r="2.6" fill="#00bb00"/>
<circle cx="338.89" cy="540.12" r="2.6" fill="#00bb00"/>
<circle cx="341.47" cy="551.10" r="2.6" fill="#00bb00"/>
<circle cx="342.84" cy="569.90" r="2.6" fill="#00bb00"/>
<circle cx="340.86" cy="559.00" r="2.6" fill="#00bb00"/>
<circle cx="337.46" cy="552.57" r="2.6" fill="#00bb00"/>
<circle cx="336.62" cy="548.52" r="2.6" fill="#00bb00"/>
<circle cx="344.85" cy="568.79" r="2.6" fill="#00bb00"/>
<circle cx="342.64" cy="545.96" r="2.6" fill="#00bb00"/>
<circle cx="342.88" cy="616.45" r="2.6" fill="#00bb00"/>
<circle cx="345.38" cy="611.94" r="2.6" fill="#00bb00"/>
<circle cx="347.45" cy="599.31" r="2.6" fill="#00bb00"/>
<circle cx="345.52" cy="595.33" r="2.6" fill="#00bb00"/>
<circle cx="348.28" cy="606.82" r="2.6" fill="#00bb00"/>
<circle cx="347.36" cy="593.37" r="2.6" fill="#00bb00"/>
<circle cx="346.52" cy="607.56" r="2.6" fill="#00bb00"/>
<circle cx="344.45" cy="595.78" r="2.6" fill="#00bb00"/>
<circle cx="341.95" cy="582.12" r="2.6" fill="#00bb00"/>
<circle cx="346.66" cy="582.76" r="2.6" fill="#00bb00"/>
<circle cx="342.71" cy="589.97" r="2.6" fill="#00bb00"/>
<circle cx="347.24" cy="583.29" r="2.6" fill="#00bb00"/>
<circle cx="346.82" cy="613.95" r="2.6" fill="#00bb00"/>
<circle cx="343.49" cy="591.00" r="2.6" fill="#00bb00"/>
<circle cx="345.14" cy="591.43" r="2.6" fill="#00bb00"/>
<circle cx="344.88" cy="586.14" r="2.6" fill="#00bb00"/>
<circle cx="347.98" cy="590.27" r="2.6" fill="#00bb00"/>
<circle cx="346.20" cy="617.93" r="2.6" fill="#00bb00"/>
<circle cx="347.99" cy="589.53" r="2.6" fill="#00bb00"/>
<circle cx="344.43" cy="592.07" r="2.6" fill="#00bb00"/>
<circle cx="344.19" cy="580.04" r="2.6" fill="#00bb00"/>
<circle cx="345.56" cy="598.51" r="2.6" fill="#00bb00"/>
<circle cx="345.33" cy="587.84" r="2.6" fill="#00bb00"/>
<circle cx="343.22" cy="580.19" r="2.6" fill="#00bb00"/>
<circle cx="344.45" cy="583.50" r="2.6" fill="#00bb00"/>
<circle cx="340.27" cy="581.63" r="2.6" fill="#00bb00"/>
<circle cx="343.43" cy="591.87" r="2.6" fill="#00bb00"/>
<circle cx="345.81" cy="602.84" r="2.6" fill="#00bb00"/>
<circle cx="346.67" cy="609.27" r="2.6" fill="#00bb00"/>
<circle cx="347.79" cy="607.92" r="2.6" fill="#00bb00"/>
<circle cx="344.27" cy="595.19" r="2.6" fill="#00bb00"/>
<circle cx="343.38" cy="618.40" r="2.6" fill="#00bb00"/>
<circle cx="346.57" cy="608.24" r="2.6" fill="#00bb00"/>
<circle cx="347.18" cy="581.71" r="2.6" fill="#00bb00"/>
<circle cx="346.60" cy="614.79" r="2.6" fill="#00bb00"/>
<circle cx="347.47" cy="608.62" r="2.6" fill="#00bb00"/>
<circle cx="345.38" cy="585.43" r="2.6" fill="#00bb00"/>
<circle cx="347.46" cy="599.67" r="2.6" fill="#00bb00"/>
<circle cx="347.58" cy="611.38" r="2.6" fill="#00bb00"/>
<circle cx="347.79" cy="602.78" r="2.6" fill="#00bb00"/>
<circle cx="346.82" cy="606.63" r="2.6" fill="#00bb00"/>
<circle cx="340.90" cy="588.97" r="2.6" fill="#00bb00"/>
<circle cx="344.22" cy="585.19" r="2.6" fill="#00bb00"/>
<circle cx="347.22" cy="584.09" r="2.6" fill="#00bb00"/>
<circle cx="346.37" cy="601.78" r="2.6" fill="#00bb00"/>
<circle cx="346.71" cy="604.42" r="2.6" fill="#00bb00"/>
<circle cx="340.55" cy="599.08" r="2.6" fill="#00bb00"/>
<circle cx="347.18" cy="611.11" r="2.6" fill="#00bb00"/>
<circle cx="345.78" cy="599.62" r="2.6" fill="#00bb00"/>
<circle cx="342.06" cy="605.71" r="2.6" fill="#00bb00"/>
<circle cx="344.02" cy="608.73" r="2.6" fill="#00bb00"/>
<circle cx="343.35" cy="582.90" r="2.6" fill="#00bb00"/>
<circle cx="343.62" cy="608.44" r="2.6" fill="#00bb00"/>
<circle cx="348.27" cy="608.85" r="2.6" fill="#00bb00"/>
<circle cx="344.78" cy="599.26" r="2.6" fill="#00bb00"/>
<circle cx="346.63" cy="598.68" r="2.6" fill="#00bb00"/>
<circle cx="346.45" cy="609.91" r="2.6" fill="#00bb00"/>
<circle cx="342.19" cy="605.07" r="2.6" fill="#00bb00"/>
<circle cx="343.37" cy="585.75" r="2.6" fill="#00bb00"/>
<circle cx="344.43" cy="608.99" r="2.6" fill="#00bb00"/>
<circle cx="340.97" cy="602.14" r="2.6" fill="#00bb00"/>
<circle cx="343.36" cy="582.37" r="2.6" fill="#00bb00"/>
<circle cx="316.00" cy="590.00" r="2.6" fill="#00bb00"/>
<circle cx="318.00" cy="593.30" r="2.6" fill="#00bb00"/>
<circle cx="329.00" cy="605.60" r="2.6" fill="#00bb00"/>
<circle cx="322.70" cy="613.00" r="2.6" fill="#00bb00"/>
<circle cx="333.00" cy="612.40" r="2.6" fill="#00bb00"/>
<circle cx="334.00" cy="609.20" r="2.6" fill="#00bb00"/>
<circle cx="335.00" cy="601.80" r="2.6" fill="#00bb00"/>
<circle cx="335.50" cy="575.90" r="2.6" fill="#00bb00"/>
<circle cx="332.30" cy="555.00" r="2.6" fill="#00bb00"/>
<circle cx="337.20" cy="547.60" r="2.6" fill="#00bb00"/>
<circle cx="333.00" cy="537.00" r="2.6" fill="#00bb00"/>
<circle cx="339.70" cy="488.50" r="2.6" fill="#00bb00"/>
<circle cx="335.00" cy="495.00" r="2.6" fill="#00bb00"/>
<circle cx="345.00" cy="495.50" r="2.6" fill="#00bb00"/>
<circle cx="366.69" cy="603.75" r="2.6" fill="#f24a4a"/>
<circle cx="362.98" cy="603.93" r="2.6" fill="#f24a4a"/>
<circle cx="364.71" cy="596.01" r="2.6" fill="#f24a4a"/>
<circle cx="361.44" cy="593.42" r="2.6" fill="#f24a4a"/>
<circle cx="362.07" cy="614.18" r="2.6" fill="#f24a4a"/>
<circle cx="368.48" cy="618.02" r="2.6" fill="#f24a4a"/>
<circle cx="363.70" cy="565.20" r="2.6" fill="#f24a4a"/>
<circle cx="369.00" cy="610.77" r="2.6" fill="#f24a4a"/>
<circle cx="362.88" cy="592.53" r="2.6" fill="#f24a4a"/>
<circle cx="368.51" cy="579.06" r="2.6" fill="#f24a4a"/>
<circle cx="365.35" cy="579.11" r="2.6" fill="#f24a4a"/>
<circle cx="364.64" cy="574.73" r="2.6" fill="#f24a4a"/>
<circle cx="361.46" cy="616.87" r="2.6" fill="#f24a4a"/>
<circle cx="364.87" cy="610.79" r="2.6" fill="#f24a4a"/>
<circle cx="366.54" cy="613.87" r="2.6" fill="#f24a4a"/>
<circle cx="368.21" cy="580.36" r="2.6" fill="#f24a4a"/>
<circle cx="360.54" cy="594.45" r="2.6" fill="#f24a4a"/>
<circle cx="363.87" cy="563.62" r="2.6" fill="#f24a4a"/>
<circle cx="363.20" cy="592.60" r="2.6" fill="#f24a4a"/>
<circle cx="363.15" cy="574.66" r="2.6" fill="#f24a4a"/>
<circle cx="368.08" cy="585.29" r="2.6" fill="#f24a4a"/>
<circle cx="365.73" cy="563.35" r="2.6" fill="#f24a4a"/>
<circle cx="361.37" cy="611.67" r="2.6" fill="#f24a4a"/>
<circle cx="366.58" cy="615.68" r="2.6" fill="#f24a4a"/>
<circle cx="362.87" cy="614.54" r="2.6" fill="#f24a4a"/>
<circle cx="364.05" cy="588.40" r="2.6" fill="#f24a4a"/>
<circle cx="365.43" cy="618.95" r="2.6" fill="#f24a4a"/>
<circle cx="364.36" cy="587.77" r="2.6" fill="#f24a4a"/>
<circle cx="360.74" cy="582.95" r="2.6" fill="#f24a4a"/>
<circle cx="367.00" cy="572.00" r="2.6" fill="#f24a4a"/>
<circle cx="368.82" cy="583.55" r="2.6" fill="#f24a4a"/>
<circle cx="362.67" cy="581.43" r="2.6" fill="#f24a4a"/>
<circle cx="362.10" cy="595.73" r="2.6" fill="#f24a4a"/>
<circle cx="369.44" cy="588.46" r="2.6" fill="#f24a4a"/>
<circle cx="367.51" cy="613.75" r="2.6" fill="#f24a4a"/>
<circle cx="368.79" cy="601.74" r="2.6" fill="#f24a4a"/>
<circle cx="365.13" cy="616.33" r="2.6" fill="#f24a4a"/>
<circle cx="360.75" cy="606.04" r="2.6" fill="#f24a4a"/>
<circle cx="364.41" cy="606.65" r="2.6" fill="#f24a4a"/>
<circle cx="366.16" cy="607.61" r="2.6" fill="#f24a4a"/>
<circle cx="360.75" cy="583.58" r="2.6" fill="#f24a4a"/>
<circle cx="361.42" cy="615.69" r="2.6" fill="#f24a4a"/>
<circle cx="363.59" cy="593.72" r="2.6" fill="#f24a4a"/>
<circle cx="367.07" cy="584.25" r="2.6" fill="#f24a4a"/>
<circle cx="362.57" cy="617.94" r="2.6" fill="#f24a4a"/>
<circle cx="363.08" cy="602.97" r="2.6" fill="#f24a4a"/>
<circle cx="364.02" cy="598.08" r="2.6" fill="#f24a4a"/>
<circle cx="361.66" cy="576.40" r="2.6" fill="#f24a4a"/>
<circle cx="368.16" cy="578.94" r="2.6" fill="#f24a4a"/>
<circle cx="362.40" cy="595.01" r="2.6" fill="#f24a4a"/>
<circle cx="369.12" cy="614.76" r="2.6" fill="#f24a4a"/>
<circle cx="361.64" cy="592.56" r="2.6" fill="#f24a4a"/>
<circle cx="361.08" cy="577.98" r="2.6" fill="#f24a4a"/>
<circle cx="361.16" cy="586.73" r="2.6" fill="#f24a4a"/>
<circle cx="362.59" cy="580.83" r="2.6" fill="#f24a4a"/>
<circle cx="368.64" cy="598.70" r="2.6" fill="#f24a4a"/>
<circle cx="364.06" cy="607.47" r="2.6" fill="#f24a4a"/>
<circle cx="365.37" cy="590.65" r="2.6" fill="#f24a4a"/>
<circle cx="363.54" cy="588.65" r="2.6" fill="#f24a4a"/>
<circle cx="362.45" cy="569.06" r="2.6" fill="#f24a4a"/>
<circle cx="361.40" cy="617.55" r="2.6" fill="#f24a4a"/>
<circle cx="366.29" cy="595.34" r="2.6" fill="#f24a4a"/>
<circle cx="362.23" cy="612.77" r="2.6" fill="#f24a4a"/>
<circle cx="362.54" cy="582.71" r="2.6" fill="#f24a4a"/>
<circle cx="364.62" cy="589.89" r="2.6" fill="#f24a4a"/>
<circle cx="367.74" cy="616.93" r="2.6" fill="#f24a4a"/>
<circle cx="360.49" cy="613.23" r="2.6" fill="#f24a4a"/>
<circle cx="365.64" cy="566.59" r="2.6" fill="#f24a4a"/>
<circle cx="364.49" cy="614.28" r="2.6" fill="#f24a4a"/>
<circle cx="360.30" cy="599.58" r="2.6" fill="#f24a4a"/>
<circle cx="365.60" cy="508.00" r="2.6" fill="#f24a4a"/>
<circle cx="365.00" cy="514.60" r="2.6" fill="#f24a4a"/>
<circle cx="380.70" cy="516.80" r="2.6" fill="#f24a4a"/>
<circle cx="365.00" cy="521.00" r="2.6" fill="#f24a4a"/>
<circle cx="375.80" cy="534.30" r="2.6" fill="#f24a4a"/>
<circle cx="378.00" cy="533.00" r="2.6" fill="#f24a4a"/>
<circle cx="363.50" cy="537.00" r="2.6" fill="#f24a4a"/>
<circle cx="375.40" cy="542.00" r="2.6" fill="#f24a4a"/>
<circle cx="372.00" cy="546.60" r="2.6" fill="#f24a4a"/>
<circle cx="366.30" cy="548.70" r="2.6" fill="#f24a4a"/>
<circle cx="362.70" cy="555.00" r="2.6" fill="#f24a4a"/>
<circle cx="366.70" cy="560.40" r="2.6" fill="#f24a4a"/>
<circle cx="371.60" cy="564.00" r="2.6" fill="#f24a4a"/>
<circle cx="380.70" cy="578.40" r="2.6" fill="#f24a4a"/>
<circle cx="373.00" cy="576.70" r="2.6" fill="#f24a4a"/>
<circle cx="378.00" cy="606.70" r="2.6" fill="#f24a4a"/>
<circle cx="372.50" cy="590.00" r="2.6" fill="#f24a4a"/>
<circle cx="371.50" cy="570.00" r="2.6" fill="#f24a4a"/>
<circle cx="371.00" cy="600.00" r="2.6" fill="#f24a4a"/>
<text x="296" y="579" font-size="6.7" font-weight="bold" font-style="italic" fill="#222" stroke="#222" stroke-width="0.2">Salmonella</text>
<line x1="286.60" y1="489.00" x2="286.60" y2="624.60" stroke="#000" stroke-width="2" />
<line x1="285.60" y1="623.60" x2="422.00" y2="623.60" stroke="#000" stroke-width="2" />
<line x1="280.60" y1="619.40" x2="286.60" y2="619.40" stroke="#000" stroke-width="2" />
<text x="279.00" y="623.10" font-size="10.2" font-weight="bold" text-anchor="end" fill="#231f20" stroke="#231f20" stroke-width="0.3" >0</text>
<line x1="280.60" y1="576.33" x2="286.60" y2="576.33" stroke="#000" stroke-width="2" />
<text x="279.00" y="580.03" font-size="10.2" font-weight="bold" text-anchor="end" fill="#231f20" stroke="#231f20" stroke-width="0.3" >100</text>
<line x1="280.60" y1="533.26" x2="286.60" y2="533.26" stroke="#000" stroke-width="2" />
<text x="279.00" y="536.96" font-size="10.2" font-weight="bold" text-anchor="end" fill="#231f20" stroke="#231f20" stroke-width="0.3" >200</text>
<line x1="280.60" y1="490.19" x2="286.60" y2="490.19" stroke="#000" stroke-width="2" />
<text x="279.00" y="493.89" font-size="10.2" font-weight="bold" text-anchor="end" fill="#231f20" stroke="#231f20" stroke-width="0.3" >300</text>
<line x1="303.60" y1="623.60" x2="303.60" y2="629.10" stroke="#000" stroke-width="2" />
<text x="303.60" y="641.20" font-size="10.2" font-weight="bold" text-anchor="middle" fill="#231f20" stroke="#231f20" stroke-width="0.3" >-15</text>
<line x1="354.00" y1="623.60" x2="354.00" y2="629.10" stroke="#000" stroke-width="2" />
<text x="354.00" y="641.20" font-size="10.2" font-weight="bold" text-anchor="middle" fill="#231f20" stroke="#231f20" stroke-width="0.3" >0</text>
<line x1="404.40" y1="623.60" x2="404.40" y2="629.10" stroke="#000" stroke-width="2" />
<text x="404.40" y="641.20" font-size="10.2" font-weight="bold" text-anchor="middle" fill="#231f20" stroke="#231f20" stroke-width="0.3" >15</text>
<text x="352.50" y="655.2" font-size="11" font-weight="bold" text-anchor="middle" fill="#231f20" stroke="#231f20" stroke-width="0.3">Log<tspan font-size="7" dy="3">2</tspan><tspan dy="-3">(FC)</tspan></text>
<text x="256.3" y="557.5" font-size="11.3" font-weight="bold" text-anchor="middle" fill="#231f20" stroke="#231f20" stroke-width="0.3" transform="rotate(-90 256.3 557.5)">-Log<tspan font-size="7" dy="3">10</tspan><tspan dy="-3">(FDR)</tspan></text>
<text x="312.00" y="468.20" font-size="9.4" font-weight="bold" text-anchor="start" fill="#231f20" stroke="#231f20" stroke-width="0.3" >PBS vs. HMs-Phages</text>
<circle cx="283.40" cy="478.6" r="2.8" fill="#f24a4a"/>
<text x="289.90" y="481.10" font-size="7" font-weight="bold" text-anchor="start" fill="#231f20" stroke="#231f20" stroke-width="0.3" >Up (17.03%)</text>
<circle cx="336.40" cy="478.6" r="2.8" fill="#00bb00"/>
<text x="342.90" y="481.10" font-size="7" font-weight="bold" text-anchor="start" fill="#231f20" stroke="#231f20" stroke-width="0.3" >Down (23.22%)</text>
<circle cx="399.40" cy="478.6" r="2.8" fill="#a0a0a4"/>
<text x="405.90" y="481.10" font-size="7" font-weight="bold" text-anchor="start" fill="#231f20" stroke="#231f20" stroke-width="0.3" >NS (59.75%)</text>
<line x1="523.60" y1="615.40" x2="656.00" y2="615.40" stroke="#111" stroke-width="1.3" stroke-dasharray="1.3 2.8"/>
<line x1="581.88" y1="490.00" x2="581.88" y2="622.60" stroke="#111" stroke-width="1.3" stroke-dasharray="1.3 2.9"/>
<line x1="595.32" y1="490.00" x2="595.32" y2="622.60" stroke="#111" stroke-width="1.3" stroke-dasharray="1.3 2.9"/>
<circle cx="595.80" cy="605.13" r="2.3" fill="#a0a0a4"/>
<circle cx="593.49" cy="614.18" r="2.3" fill="#a0a0a4"/>
<circle cx="583.59" cy="599.63" r="2.3" fill="#a0a0a4"/>
<circle cx="595.39" cy="610.80" r="2.3" fill="#a0a0a4"/>
<circle cx="594.33" cy="610.12" r="2.3" fill="#a0a0a4"/>
<circle cx="584.63" cy="608.25" r="2.3" fill="#a0a0a4"/>
<circle cx="595.08" cy="602.04" r="2.3" fill="#a0a0a4"/>
<circle cx="582.51" cy="603.42" r="2.3" fill="#a0a0a4"/>
<circle cx="592.95" cy="609.91" r="2.3" fill="#a0a0a4"/>
<circle cx="594.83" cy="598.87" r="2.3" fill="#a0a0a4"/>
<circle cx="583.90" cy="605.07" r="2.3" fill="#a0a0a4"/>
<circle cx="583.34" cy="597.70" r="2.3" fill="#a0a0a4"/>
<circle cx="596.04" cy="616.20" r="2.3" fill="#a0a0a4"/>
<circle cx="582.49" cy="606.77" r="2.3" fill="#a0a0a4"/>
<circle cx="593.73" cy="616.23" r="2.3" fill="#a0a0a4"/>
<circle cx="584.20" cy="597.92" r="2.3" fill="#a0a0a4"/>
<circle cx="584.17" cy="605.69" r="2.3" fill="#a0a0a4"/>
<circle cx="581.64" cy="615.54" r="2.3" fill="#a0a0a4"/>
<circle cx="584.23" cy="604.09" r="2.3" fill="#a0a0a4"/>
<circle cx="595.46" cy="601.36" r="2.3" fill="#a0a0a4"/>
<circle cx="585.38" cy="607.35" r="2.3" fill="#a0a0a4"/>
<circle cx="593.42" cy="603.58" r="2.3" fill="#a0a0a4"/>
<circle cx="593.68" cy="601.82" r="2.3" fill="#a0a0a4"/>
<circle cx="582.25" cy="616.06" r="2.3" fill="#a0a0a4"/>
<circle cx="584.16" cy="601.85" r="2.3" fill="#a0a0a4"/>
<circle cx="583.07" cy="616.00" r="2.3" fill="#a0a0a4"/>
<circle cx="593.07" cy="601.65" r="2.3" fill="#a0a0a4"/>
<circle cx="583.07" cy="598.51" r="2.3" fill="#a0a0a4"/>
<circle cx="595.43" cy="615.01" r="2.3" fill="#a0a0a4"/>
<circle cx="593.82" cy="616.95" r="2.3" fill="#a0a0a4"/>
<circle cx="595.49" cy="601.12" r="2.3" fill="#a0a0a4"/>
<circle cx="594.01" cy="598.12" r="2.3" fill="#a0a0a4"/>
<circle cx="582.18" cy="604.79" r="2.3" fill="#a0a0a4"/>
<circle cx="582.91" cy="597.56" r="2.3" fill="#a0a0a4"/>
<circle cx="585.36" cy="616.13" r="2.3" fill="#a0a0a4"/>
<circle cx="584.79" cy="601.54" r="2.3" fill="#a0a0a4"/>
<circle cx="581.70" cy="613.53" r="2.3" fill="#a0a0a4"/>
<circle cx="585.18" cy="606.73" r="2.3" fill="#a0a0a4"/>
<circle cx="585.09" cy="601.26" r="2.3" fill="#a0a0a4"/>
<circle cx="584.75" cy="598.09" r="2.3" fill="#a0a0a4"/>
<circle cx="581.64" cy="612.45" r="2.3" fill="#a0a0a4"/>
<circle cx="593.53" cy="598.72" r="2.3" fill="#a0a0a4"/>
<circle cx="593.86" cy="612.07" r="2.3" fill="#a0a0a4"/>
<circle cx="594.97" cy="602.81" r="2.3" fill="#a0a0a4"/>
<circle cx="593.77" cy="602.61" r="2.3" fill="#a0a0a4"/>
<circle cx="584.52" cy="602.87" r="2.3" fill="#a0a0a4"/>
<circle cx="596.27" cy="615.37" r="2.3" fill="#a0a0a4"/>
<circle cx="583.40" cy="597.97" r="2.3" fill="#a0a0a4"/>
<circle cx="594.05" cy="616.16" r="2.3" fill="#a0a0a4"/>
<circle cx="583.47" cy="602.40" r="2.3" fill="#a0a0a4"/>
<circle cx="584.71" cy="615.60" r="2.3" fill="#a0a0a4"/>
<circle cx="595.59" cy="611.90" r="2.3" fill="#a0a0a4"/>
<circle cx="582.78" cy="609.34" r="2.3" fill="#a0a0a4"/>
<circle cx="592.82" cy="604.56" r="2.3" fill="#a0a0a4"/>
<circle cx="593.49" cy="601.35" r="2.3" fill="#a0a0a4"/>
<circle cx="583.71" cy="598.76" r="2.3" fill="#a0a0a4"/>
<circle cx="596.03" cy="603.85" r="2.3" fill="#a0a0a4"/>
<circle cx="581.84" cy="616.76" r="2.3" fill="#a0a0a4"/>
<circle cx="584.34" cy="599.38" r="2.3" fill="#a0a0a4"/>
<circle cx="583.17" cy="606.22" r="2.3" fill="#a0a0a4"/>
<circle cx="595.49" cy="609.60" r="2.3" fill="#a0a0a4"/>
<circle cx="592.98" cy="614.02" r="2.3" fill="#a0a0a4"/>
<circle cx="583.77" cy="613.90" r="2.3" fill="#a0a0a4"/>
<circle cx="593.30" cy="604.77" r="2.3" fill="#a0a0a4"/>
<circle cx="582.11" cy="602.32" r="2.3" fill="#a0a0a4"/>
<circle cx="593.81" cy="614.74" r="2.3" fill="#a0a0a4"/>
<circle cx="594.53" cy="605.22" r="2.3" fill="#a0a0a4"/>
<circle cx="595.11" cy="602.01" r="2.3" fill="#a0a0a4"/>
<circle cx="583.40" cy="616.82" r="2.3" fill="#a0a0a4"/>
<circle cx="596.16" cy="613.47" r="2.3" fill="#a0a0a4"/>
<circle cx="583.44" cy="611.35" r="2.3" fill="#a0a0a4"/>
<circle cx="584.31" cy="610.52" r="2.3" fill="#a0a0a4"/>
<circle cx="593.70" cy="613.67" r="2.3" fill="#a0a0a4"/>
<circle cx="593.23" cy="611.98" r="2.3" fill="#a0a0a4"/>
<circle cx="592.53" cy="612.59" r="2.3" fill="#a0a0a4"/>
<circle cx="585.86" cy="615.22" r="2.3" fill="#a0a0a4"/>
<circle cx="593.40" cy="609.85" r="2.3" fill="#a0a0a4"/>
<circle cx="589.56" cy="613.96" r="2.3" fill="#a0a0a4"/>
<circle cx="585.39" cy="611.95" r="2.3" fill="#a0a0a4"/>
<circle cx="584.56" cy="610.63" r="2.3" fill="#a0a0a4"/>
<circle cx="585.80" cy="613.80" r="2.3" fill="#a0a0a4"/>
<circle cx="590.17" cy="610.63" r="2.3" fill="#a0a0a4"/>
<circle cx="583.13" cy="611.62" r="2.3" fill="#a0a0a4"/>
<circle cx="590.46" cy="610.48" r="2.3" fill="#a0a0a4"/>
<circle cx="586.43" cy="610.63" r="2.3" fill="#a0a0a4"/>
<circle cx="591.75" cy="613.38" r="2.3" fill="#a0a0a4"/>
<circle cx="583.70" cy="609.81" r="2.3" fill="#a0a0a4"/>
<circle cx="587.35" cy="613.40" r="2.3" fill="#a0a0a4"/>
<circle cx="590.03" cy="609.73" r="2.3" fill="#a0a0a4"/>
<circle cx="584.80" cy="614.56" r="2.3" fill="#a0a0a4"/>
<circle cx="587.51" cy="611.27" r="2.3" fill="#a0a0a4"/>
<circle cx="586.38" cy="616.63" r="2.3" fill="#a0a0a4"/>
<circle cx="586.44" cy="613.53" r="2.3" fill="#a0a0a4"/>
<circle cx="586.93" cy="612.33" r="2.3" fill="#a0a0a4"/>
<circle cx="592.51" cy="616.97" r="2.3" fill="#a0a0a4"/>
<circle cx="587.00" cy="610.58" r="2.3" fill="#a0a0a4"/>
<circle cx="591.01" cy="610.63" r="2.3" fill="#a0a0a4"/>
<circle cx="583.06" cy="616.21" r="2.3" fill="#a0a0a4"/>
<circle cx="587.66" cy="615.56" r="2.3" fill="#a0a0a4"/>
<circle cx="587.47" cy="616.06" r="2.3" fill="#a0a0a4"/>
<circle cx="582.60" cy="596.70" r="2.3" fill="#a0a0a4"/>
<circle cx="554.90" cy="585.60" r="2.4" fill="#00bb00"/>
<circle cx="556.70" cy="604.90" r="2.4" fill="#00bb00"/>
<circle cx="564.90" cy="603.50" r="2.4" fill="#00bb00"/>
<circle cx="567.80" cy="613.70" r="2.4" fill="#00bb00"/>
<circle cx="570.70" cy="614.00" r="2.4" fill="#00bb00"/>
<circle cx="576.50" cy="588.50" r="2.4" fill="#00bb00"/>
<circle cx="579.50" cy="589.50" r="2.4" fill="#00bb00"/>
<circle cx="574.64" cy="602.52" r="2.4" fill="#00bb00"/>
<circle cx="577.36" cy="591.37" r="2.4" fill="#00bb00"/>
<circle cx="579.87" cy="607.02" r="2.4" fill="#00bb00"/>
<circle cx="577.86" cy="593.23" r="2.4" fill="#00bb00"/>
<circle cx="577.03" cy="600.27" r="2.4" fill="#00bb00"/>
<circle cx="575.48" cy="594.65" r="2.4" fill="#00bb00"/>
<circle cx="579.98" cy="604.03" r="2.4" fill="#00bb00"/>
<circle cx="576.93" cy="593.72" r="2.4" fill="#00bb00"/>
<circle cx="580.27" cy="611.12" r="2.4" fill="#00bb00"/>
<circle cx="574.39" cy="595.93" r="2.4" fill="#00bb00"/>
<circle cx="580.33" cy="614.58" r="2.4" fill="#00bb00"/>
<circle cx="573.87" cy="603.07" r="2.4" fill="#00bb00"/>
<circle cx="576.22" cy="614.15" r="2.4" fill="#00bb00"/>
<circle cx="577.84" cy="613.61" r="2.4" fill="#00bb00"/>
<circle cx="574.62" cy="611.61" r="2.4" fill="#00bb00"/>
<circle cx="575.05" cy="610.65" r="2.4" fill="#00bb00"/>
<circle cx="579.42" cy="601.11" r="2.4" fill="#00bb00"/>
<circle cx="574.78" cy="611.73" r="2.4" fill="#00bb00"/>
<circle cx="576.30" cy="596.45" r="2.4" fill="#00bb00"/>
<circle cx="576.19" cy="603.95" r="2.4" fill="#00bb00"/>
<circle cx="575.23" cy="594.08" r="2.4" fill="#00bb00"/>
<circle cx="579.78" cy="609.12" r="2.4" fill="#00bb00"/>
<circle cx="577.44" cy="592.03" r="2.4" fill="#00bb00"/>
<circle cx="573.77" cy="609.94" r="2.4" fill="#00bb00"/>
<circle cx="574.32" cy="611.96" r="2.4" fill="#00bb00"/>
<circle cx="577.35" cy="605.99" r="2.4" fill="#00bb00"/>
<circle cx="575.64" cy="606.68" r="2.4" fill="#00bb00"/>
<circle cx="577.58" cy="601.50" r="2.4" fill="#00bb00"/>
<circle cx="578.11" cy="601.64" r="2.4" fill="#00bb00"/>
<circle cx="576.57" cy="602.17" r="2.4" fill="#00bb00"/>
<circle cx="577.83" cy="591.58" r="2.4" fill="#00bb00"/>
<circle cx="575.15" cy="603.24" r="2.4" fill="#00bb00"/>
<circle cx="578.96" cy="610.09" r="2.4" fill="#00bb00"/>
<circle cx="574.76" cy="602.46" r="2.4" fill="#00bb00"/>
<circle cx="574.25" cy="602.83" r="2.4" fill="#00bb00"/>
<circle cx="576.51" cy="594.21" r="2.4" fill="#00bb00"/>
<circle cx="576.59" cy="593.29" r="2.4" fill="#00bb00"/>
<circle cx="573.79" cy="603.75" r="2.4" fill="#00bb00"/>
<circle cx="599.30" cy="588.00" r="2.4" fill="#f24a4a"/>
<circle cx="601.00" cy="592.60" r="2.4" fill="#f24a4a"/>
<circle cx="600.10" cy="578.60" r="2.4" fill="#f24a4a"/>
<circle cx="605.70" cy="573.40" r="2.4" fill="#f24a4a"/>
<circle cx="610.70" cy="574.80" r="2.4" fill="#f24a4a"/>
<circle cx="610.40" cy="567.80" r="2.4" fill="#f24a4a"/>
<circle cx="609.80" cy="558.80" r="2.4" fill="#f24a4a"/>
<circle cx="608.70" cy="587.10" r="2.4" fill="#f24a4a"/>
<circle cx="608.10" cy="591.80" r="2.4" fill="#f24a4a"/>
<circle cx="612.50" cy="591.70" r="2.4" fill="#f24a4a"/>
<circle cx="610.40" cy="597.30" r="2.4" fill="#f24a4a"/>
<circle cx="613.90" cy="600.80" r="2.4" fill="#f24a4a"/>
<circle cx="609.30" cy="610.70" r="2.4" fill="#f24a4a"/>
<circle cx="609.30" cy="613.70" r="2.4" fill="#f24a4a"/>
<circle cx="605.70" cy="599.00" r="2.4" fill="#f24a4a"/>
<circle cx="598.00" cy="585.00" r="2.4" fill="#f24a4a"/>
<circle cx="597.04" cy="609.46" r="2.4" fill="#f24a4a"/>
<circle cx="602.23" cy="611.20" r="2.4" fill="#f24a4a"/>
<circle cx="596.80" cy="607.21" r="2.4" fill="#f24a4a"/>
<circle cx="598.59" cy="607.07" r="2.4" fill="#f24a4a"/>
<circle cx="597.74" cy="615.12" r="2.4" fill="#f24a4a"/>
<circle cx="604.82" cy="613.43" r="2.4" fill="#f24a4a"/>
<circle cx="602.50" cy="611.18" r="2.4" fill="#f24a4a"/>
<circle cx="599.49" cy="601.49" r="2.4" fill="#f24a4a"/>
<circle cx="601.70" cy="606.85" r="2.4" fill="#f24a4a"/>
<circle cx="597.96" cy="614.49" r="2.4" fill="#f24a4a"/>
<circle cx="603.77" cy="612.19" r="2.4" fill="#f24a4a"/>
<circle cx="597.21" cy="599.18" r="2.4" fill="#f24a4a"/>
<circle cx="597.70" cy="611.61" r="2.4" fill="#f24a4a"/>
<circle cx="598.88" cy="614.14" r="2.4" fill="#f24a4a"/>
<circle cx="597.65" cy="612.68" r="2.4" fill="#f24a4a"/>
<circle cx="601.58" cy="607.04" r="2.4" fill="#f24a4a"/>
<circle cx="597.33" cy="601.75" r="2.4" fill="#f24a4a"/>
<circle cx="598.27" cy="607.11" r="2.4" fill="#f24a4a"/>
<circle cx="596.83" cy="598.66" r="2.4" fill="#f24a4a"/>
<circle cx="599.11" cy="600.90" r="2.4" fill="#f24a4a"/>
<circle cx="602.71" cy="610.23" r="2.4" fill="#f24a4a"/>
<circle cx="598.74" cy="601.04" r="2.4" fill="#f24a4a"/>
<circle cx="597.78" cy="600.07" r="2.4" fill="#f24a4a"/>
<circle cx="598.87" cy="609.45" r="2.4" fill="#f24a4a"/>
<circle cx="601.21" cy="613.71" r="2.4" fill="#f24a4a"/>
<circle cx="601.92" cy="608.44" r="2.4" fill="#f24a4a"/>
<circle cx="598.82" cy="599.88" r="2.4" fill="#f24a4a"/>
<circle cx="599.08" cy="609.34" r="2.4" fill="#f24a4a"/>
<circle cx="598.59" cy="612.36" r="2.4" fill="#f24a4a"/>
<circle cx="601.94" cy="615.83" r="2.4" fill="#f24a4a"/>
<circle cx="599.85" cy="604.48" r="2.4" fill="#f24a4a"/>
<circle cx="597.39" cy="605.96" r="2.4" fill="#f24a4a"/>
<circle cx="596.86" cy="611.38" r="2.4" fill="#f24a4a"/>
<circle cx="598.54" cy="612.76" r="2.4" fill="#f24a4a"/>
<circle cx="603.01" cy="609.51" r="2.4" fill="#f24a4a"/>
<circle cx="600.61" cy="608.55" r="2.4" fill="#f24a4a"/>
<circle cx="596.51" cy="603.63" r="2.4" fill="#f24a4a"/>
<circle cx="596.76" cy="598.61" r="2.4" fill="#f24a4a"/>
<circle cx="599.28" cy="609.09" r="2.4" fill="#f24a4a"/>
<circle cx="601.52" cy="607.23" r="2.4" fill="#f24a4a"/>
<circle cx="597.08" cy="600.38" r="2.4" fill="#f24a4a"/>
<circle cx="596.65" cy="609.76" r="2.4" fill="#f24a4a"/>
<circle cx="597.04" cy="598.05" r="2.4" fill="#f24a4a"/>
<circle cx="597.34" cy="599.91" r="2.4" fill="#f24a4a"/>
<circle cx="598.42" cy="602.04" r="2.4" fill="#f24a4a"/>
<circle cx="597.77" cy="608.60" r="2.4" fill="#f24a4a"/>
<circle cx="599.58" cy="609.23" r="2.4" fill="#f24a4a"/>
<circle cx="598.91" cy="600.43" r="2.4" fill="#f24a4a"/>
<circle cx="597.01" cy="602.38" r="2.4" fill="#f24a4a"/>
<circle cx="597.95" cy="599.72" r="2.4" fill="#f24a4a"/>
<circle cx="603.13" cy="613.68" r="2.4" fill="#f24a4a"/>
<circle cx="597.75" cy="605.24" r="2.4" fill="#f24a4a"/>
<circle cx="597.53" cy="598.21" r="2.4" fill="#f24a4a"/>
<circle cx="598.60" cy="608.12" r="2.4" fill="#f24a4a"/>
<circle cx="599.46" cy="609.62" r="2.4" fill="#f24a4a"/>
<line x1="582.10" y1="592.00" x2="582.10" y2="622.00" stroke="#111" stroke-width="1.3" stroke-dasharray="1.3 2.9"/>
<line x1="595.50" y1="592.00" x2="595.50" y2="622.00" stroke="#111" stroke-width="1.3" stroke-dasharray="1.3 2.9"/>
<text x="539" y="573.6" font-size="6.7" font-weight="bold" font-style="italic" fill="#222" stroke="#222" stroke-width="0.2">Salmonella</text>
<line x1="521.60" y1="489.60" x2="521.60" y2="624.60" stroke="#000" stroke-width="2" />
<line x1="520.60" y1="623.60" x2="656.00" y2="623.60" stroke="#000" stroke-width="2" />
<line x1="515.60" y1="615.40" x2="521.60" y2="615.40" stroke="#000" stroke-width="2" />
<text x="514.00" y="619.10" font-size="10.2" font-weight="bold" text-anchor="end" fill="#231f20" stroke="#231f20" stroke-width="0.3" >0</text>
<line x1="515.60" y1="576.30" x2="521.60" y2="576.30" stroke="#000" stroke-width="2" />
<text x="514.00" y="580.00" font-size="10.2" font-weight="bold" text-anchor="end" fill="#231f20" stroke="#231f20" stroke-width="0.3" >100</text>
<line x1="515.60" y1="537.20" x2="521.60" y2="537.20" stroke="#000" stroke-width="2" />
<text x="514.00" y="540.90" font-size="10.2" font-weight="bold" text-anchor="end" fill="#231f20" stroke="#231f20" stroke-width="0.3" >200</text>
<line x1="515.60" y1="498.10" x2="521.60" y2="498.10" stroke="#000" stroke-width="2" />
<text x="514.00" y="501.80" font-size="10.2" font-weight="bold" text-anchor="end" fill="#231f20" stroke="#231f20" stroke-width="0.3" >300</text>
<line x1="538.20" y1="623.60" x2="538.20" y2="629.10" stroke="#000" stroke-width="2" />
<text x="538.20" y="641.20" font-size="10.2" font-weight="bold" text-anchor="middle" fill="#231f20" stroke="#231f20" stroke-width="0.3" >-15</text>
<line x1="588.60" y1="623.60" x2="588.60" y2="629.10" stroke="#000" stroke-width="2" />
<text x="588.60" y="641.20" font-size="10.2" font-weight="bold" text-anchor="middle" fill="#231f20" stroke="#231f20" stroke-width="0.3" >0</text>
<line x1="639.00" y1="623.60" x2="639.00" y2="629.10" stroke="#000" stroke-width="2" />
<text x="639.00" y="641.20" font-size="10.2" font-weight="bold" text-anchor="middle" fill="#231f20" stroke="#231f20" stroke-width="0.3" >15</text>
<text x="587.50" y="655.2" font-size="11" font-weight="bold" text-anchor="middle" fill="#231f20" stroke="#231f20" stroke-width="0.3">Log<tspan font-size="7" dy="3">2</tspan><tspan dy="-3">(FC)</tspan></text>
<text x="492.4" y="556.5" font-size="11.3" font-weight="bold" text-anchor="middle" fill="#231f20" stroke="#231f20" stroke-width="0.3" transform="rotate(-90 492.4 556.5)">-Log<tspan font-size="7" dy="3">10</tspan><tspan dy="-3">(FDR)</tspan></text>
<text x="558.40" y="468.20" font-size="9.4" font-weight="bold" text-anchor="start" fill="#231f20" stroke="#231f20" stroke-width="0.3" >PBS vs. CIP</text>
<circle cx="517.40" cy="478.6" r="2.8" fill="#f24a4a"/>
<text x="523.90" y="481.10" font-size="7" font-weight="bold" text-anchor="start" fill="#231f20" stroke="#231f20" stroke-width="0.3" >Up (12.74%)</text>
<circle cx="570.40" cy="478.6" r="2.8" fill="#00bb00"/>
<text x="576.90" y="481.10" font-size="7" font-weight="bold" text-anchor="start" fill="#231f20" stroke="#231f20" stroke-width="0.3" >Down (11.61%)</text>
<circle cx="633.40" cy="478.6" r="2.8" fill="#a0a0a4"/>
<text x="639.90" y="481.10" font-size="7" font-weight="bold" text-anchor="start" fill="#231f20" stroke="#231f20" stroke-width="0.3" >NS (75.65%)</text>
</svg>
</body></html>
